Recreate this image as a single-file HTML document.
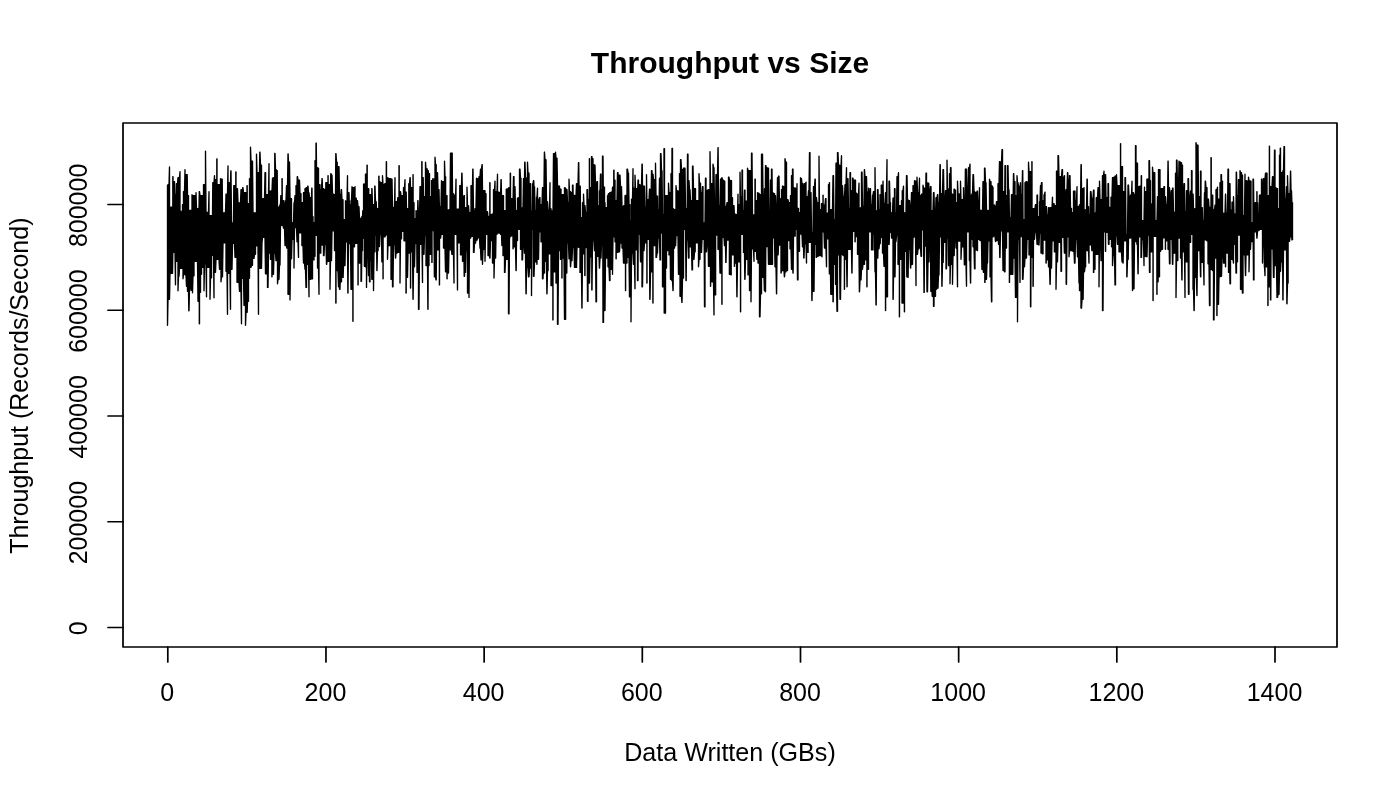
<!DOCTYPE html><html><head><meta charset="utf-8"><title>Throughput vs Size</title><style>html,body{margin:0;padding:0;background:#fff;overflow:hidden;}svg{display:block;}text{font-family:"Liberation Sans",Arial,Helvetica,sans-serif;fill:#000;}</style></head><body>
<svg width="1400" height="800" viewBox="0 0 1400 800">
<rect width="1400" height="800" fill="#fff"/>
<text x="730" y="73" font-size="30" font-weight="bold" text-anchor="middle">Throughput vs Size</text>
<polyline points="167.50,184.7 167.50,325.3 168.00,299.3 168.00,184.7 168.50,184.7 168.50,299.3 169.00,299.3 169.00,184.7 169.50,166.9 169.50,299.3 170.00,273.3 170.00,207.1 170.50,207.1 170.50,273.3 171.00,273.3 171.00,207.1 171.50,207.1 171.50,273.3 172.00,273.3 172.00,207.1 172.50,207.1 172.50,273.3 172.80,252.3 172.80,176.7 173.00,176.7 173.00,252.3 173.50,252.3 173.50,181.7 174.00,181.7 174.00,252.3 174.50,252.3 174.50,181.7 175.00,194.7 175.00,252.3 175.50,284.8 175.50,194.7 176.00,194.7 176.00,261.3 176.50,261.3 176.50,183.7 177.00,183.7 177.00,261.3 177.50,261.3 177.50,183.7 178.00,177.7 178.00,290.8 178.50,276.3 178.50,177.7 179.00,177.7 179.00,276.3 179.50,268.3 179.50,177.7 180.00,171.7 180.00,268.3 180.50,268.3 180.50,211.4 181.00,211.4 181.00,268.3 181.50,268.3 181.50,211.4 182.00,211.4 182.00,268.3 182.50,268.3 182.50,204.7 183.00,204.7 183.00,278.8 183.50,274.3 183.50,191.7 184.00,191.7 184.00,274.3 184.50,274.3 184.50,191.7 185.00,169.7 185.00,274.3 185.50,275.3 185.50,174.7 186.00,174.7 186.00,275.3 186.50,286.3 186.50,174.7 187.00,174.7 187.00,286.3 187.20,286.3 187.20,174.7 187.50,195.7 187.50,291.3 188.00,291.3 188.00,195.7 188.50,195.7 188.50,291.3 188.80,310.8 188.80,210.3 189.00,210.3 189.00,310.8 189.50,288.3 189.50,210.3 190.00,210.3 190.00,288.3 190.50,288.3 190.50,210.3 191.00,210.3 191.00,290.3 191.20,290.3 191.20,210.3 191.50,210.3 191.50,290.3 192.00,290.3 192.00,194.7 192.50,195.7 192.50,292.8 193.00,275.8 193.00,195.7 193.50,195.7 193.50,275.8 194.00,275.8 194.00,195.7 194.50,195.7 194.50,261.3 195.00,261.3 195.00,195.7 195.50,195.7 195.50,261.3 196.00,261.3 196.00,192.7 196.50,208.7 196.50,261.3 197.00,261.3 197.00,208.7 197.50,208.7 197.50,261.3 198.00,301.3 198.00,208.7 198.50,208.7 198.50,301.3 199.00,301.3 199.00,208.7 199.30,191.7 199.30,323.8 199.50,323.8 199.50,191.7 200.00,195.7 200.00,292.3 200.50,292.3 200.50,195.7 201.00,195.7 201.00,274.3 201.50,274.3 201.50,195.7 202.00,195.7 202.00,267.3 202.50,267.3 202.50,195.7 203.00,195.7 203.00,267.3 203.50,267.3 203.50,184.7 204.00,184.7 204.00,290.8 204.50,263.8 204.50,184.7 205.00,184.7 205.00,263.8 205.50,263.8 205.50,151.2 206.00,212.5 206.00,263.8 206.50,296.8 206.50,212.5 207.00,212.5 207.00,267.3 207.50,267.3 207.50,212.5 208.00,212.5 208.00,267.3 208.50,267.3 208.50,212.5 209.00,191.7 209.00,267.3 209.50,267.3 209.50,215.7 210.00,215.7 210.00,299.3 210.50,277.8 210.50,215.7 211.00,215.7 211.00,277.8 211.50,277.8 211.50,215.7 212.00,215.7 212.00,255.3 212.50,255.3 212.50,215.7 212.80,182.7 212.80,255.3 213.00,255.3 213.00,182.7 213.50,182.7 213.50,255.3 214.00,297.8 214.00,182.7 214.50,175.7 214.50,272.3 215.00,272.3 215.00,179.7 215.50,179.7 215.50,272.3 216.00,259.3 216.00,179.7 216.50,179.7 216.50,259.3 216.80,259.3 216.80,158.9 217.00,158.9 217.00,259.3 217.50,259.3 217.50,184.7 218.00,184.7 218.00,259.3 218.50,259.3 218.50,184.7 219.00,184.7 219.00,259.3 219.50,269.3 219.50,184.7 220.00,184.7 220.00,269.3 220.50,269.3 220.50,178.7 221.00,179.2 221.00,281.8 221.50,276.8 221.50,179.2 222.00,179.2 222.00,276.8 222.20,276.8 222.20,179.2 222.50,212.8 222.50,276.8 223.00,242.9 223.00,212.8 223.50,212.8 223.50,242.9 224.00,242.9 224.00,212.8 224.20,212.8 224.20,242.9 224.50,242.9 224.50,212.8 225.00,212.8 225.00,242.9 225.50,242.9 225.50,212.8 226.00,194.2 226.00,271.3 226.50,271.3 226.50,194.2 227.00,194.2 227.00,271.3 227.50,314.3 227.50,194.2 228.00,165.9 228.00,273.3 228.50,273.3 228.50,182.7 229.00,182.7 229.00,273.3 229.50,273.3 229.50,182.7 230.00,182.7 230.00,273.3 230.50,309.3 230.50,182.7 230.80,170.9 230.80,269.3 231.00,269.3 231.00,170.9 231.50,222.8 231.50,269.3 231.80,269.3 231.80,222.8 232.00,222.8 232.00,269.3 232.50,243.3 232.50,222.8 233.00,222.8 233.00,243.3 233.50,243.3 233.50,222.8 233.80,185.7 233.80,243.3 234.00,243.3 234.00,185.7 234.50,185.7 234.50,243.3 235.00,257.3 235.00,185.7 235.50,185.7 235.50,257.3 235.80,257.3 235.80,171.9 236.00,171.9 236.00,257.3 236.50,257.3 236.50,188.7 237.00,188.7 237.00,282.3 237.50,282.3 237.50,188.7 238.00,202.8 238.00,282.3 238.50,282.3 238.50,202.8 239.00,202.8 239.00,282.3 239.50,291.3 239.50,202.8 240.00,202.8 240.00,291.3 240.50,291.3 240.50,202.8 241.00,189.7 241.00,291.3 241.50,323.8 241.50,189.7 242.00,189.7 242.00,278.3 242.50,278.3 242.50,189.7 242.80,187.7 242.80,278.3 243.00,278.3 243.00,187.7 243.50,192.7 243.50,278.3 244.00,305.3 244.00,192.7 244.50,192.7 244.50,305.3 245.00,305.3 245.00,192.7 245.50,192.7 245.50,325.3 246.00,312.3 246.00,192.7 246.50,192.7 246.50,312.3 247.00,312.3 247.00,185.7 247.20,185.7 247.20,312.3 247.50,301.3 247.50,203.7 248.00,203.7 248.00,301.3 248.50,301.3 248.50,203.7 249.00,203.7 249.00,278.3 249.50,278.3 249.50,178.7 250.00,178.7 250.00,267.3 250.50,267.3 250.50,147.2 251.00,161.2 251.00,267.3 251.50,265.3 251.50,161.2 252.00,161.2 252.00,265.3 252.50,265.3 252.50,161.2 253.00,212.8 253.00,258.3 253.50,258.3 253.50,212.8 254.00,212.8 254.00,258.3 254.50,254.3 254.50,212.8 255.00,212.8 255.00,254.3 255.50,254.3 255.50,212.8 256.00,212.8 256.00,245.8 256.50,245.8 256.50,154.2 257.00,172.7 257.00,245.8 257.50,245.8 257.50,172.7 258.00,172.7 258.00,245.8 258.50,314.3 258.50,172.7 259.00,172.7 259.00,268.3 259.50,268.3 259.50,172.7 259.80,152.2 259.80,268.3 260.00,268.3 260.00,152.2 260.50,165.2 260.50,268.3 261.00,268.3 261.00,165.2 261.50,165.2 261.50,268.3 262.00,242.2 262.00,198.7 262.10,198.7 262.10,242.2 262.50,237.2 262.50,198.7 263.00,198.7 263.00,237.2 263.50,237.2 263.50,198.7 264.00,198.7 264.00,237.2 264.50,237.2 264.50,198.7 265.00,172.7 265.00,237.2 265.50,273.7 265.50,172.7 265.62,172.7 265.62,273.7 266.00,273.7 266.00,194.7 266.50,194.7 266.50,273.7 267.00,273.7 267.00,194.7 267.50,194.7 267.50,287.4 267.75,287.4 267.75,194.7 268.00,194.7 268.00,287.4 268.50,253.1 268.50,194.7 269.00,163.7 269.00,253.1 269.38,253.1 269.38,191.2 269.50,191.2 269.50,253.1 270.00,253.1 270.00,191.2 270.50,191.2 270.50,259.3 270.62,259.3 270.62,191.2 271.00,191.2 271.00,259.3 271.50,259.3 271.50,190.7 271.88,190.7 271.88,276.8 272.00,276.8 272.00,190.7 272.50,178.2 272.50,274.3 273.00,274.3 273.00,178.2 273.50,177.7 273.50,274.3 274.00,253.1 274.00,177.7 274.50,177.7 274.50,253.1 274.75,253.1 274.75,153.5 274.80,153.5 274.80,253.1 275.00,253.1 275.00,153.5 275.50,169.7 275.50,253.1 276.00,260.6 276.00,169.7 276.25,169.7 276.25,260.6 276.50,260.6 276.50,170.7 277.00,170.7 277.00,260.6 277.20,260.6 277.20,170.7 277.50,207.1 277.50,283.7 278.00,279.3 278.00,207.1 278.50,207.1 278.50,279.3 278.75,279.3 278.75,207.1 279.00,207.1 279.00,279.3 279.50,264.9 279.50,207.1 280.00,204.7 280.00,264.9 280.50,225.4 280.50,204.7 280.80,195.7 280.80,225.4 281.00,225.4 281.00,195.7 281.50,195.7 281.50,225.4 282.00,225.4 282.00,178.7 282.20,178.7 282.20,225.4 282.50,225.4 282.50,200.7 283.00,200.7 283.00,225.4 283.50,228.1 283.50,200.7 283.75,200.7 283.75,228.1 284.00,228.1 284.00,204.7 284.50,204.7 284.50,228.1 285.00,245.6 285.00,204.7 285.50,200.7 285.50,245.6 286.00,245.6 286.00,200.7 286.50,185.7 286.50,245.6 286.88,248.1 286.88,185.7 287.00,185.7 287.00,248.1 287.50,248.1 287.50,185.7 288.00,153.9 288.00,294.3 288.12,294.3 288.12,153.9 288.50,162.2 288.50,294.3 289.00,294.3 289.00,162.2 289.30,162.2 289.30,294.3 289.50,294.3 289.50,162.2 290.00,198.2 290.00,299.9 290.50,258.7 290.50,198.2 291.00,198.7 291.00,258.7 291.25,258.7 291.25,198.7 291.50,198.7 291.50,258.7 292.00,239.3 292.00,222.7 292.50,222.7 292.50,239.3 292.75,239.3 292.75,222.7 293.00,222.7 293.00,239.3 293.50,239.3 293.50,222.7 294.00,202.7 294.00,268.1 294.50,227.5 294.50,202.7 295.00,195.7 295.00,227.5 295.50,227.5 295.50,195.7 295.62,195.7 295.62,227.5 296.00,227.5 296.00,185.7 296.50,185.7 296.50,227.5 297.00,241.8 297.00,185.7 297.25,176.7 297.25,241.8 297.50,241.8 297.50,176.7 298.00,180.2 298.00,241.8 298.50,257.4 298.50,180.2 299.00,180.2 299.00,232.9 299.50,232.9 299.50,180.2 300.00,193.7 300.00,232.9 300.50,232.9 300.50,193.7 301.00,193.7 301.00,232.9 301.50,232.9 301.50,202.7 301.88,202.7 301.88,245.6 302.00,245.6 302.00,202.7 302.20,202.7 302.20,245.6 302.50,245.6 302.50,202.7 303.00,202.7 303.00,245.6 303.50,263.1 303.50,192.7 303.75,192.7 303.75,263.1 304.00,263.1 304.00,192.7 304.50,192.7 304.50,263.1 305.00,269.3 305.00,188.7 305.50,188.7 305.50,269.3 306.00,287.4 306.00,188.7 306.25,187.7 306.25,287.4 306.50,287.4 306.50,187.7 307.00,187.7 307.00,264.3 307.50,264.3 307.50,187.7 307.80,186.2 307.80,264.3 308.00,264.3 308.00,186.2 308.50,192.7 308.50,264.3 309.00,296.8 309.00,192.7 309.50,197.7 309.50,279.3 310.00,279.3 310.00,197.7 310.50,197.7 310.50,279.3 310.62,279.3 310.62,197.7 311.00,197.7 311.00,278.7 311.50,278.7 311.50,197.7 311.80,188.2 311.80,278.7 312.00,278.7 312.00,188.2 312.25,216.7 312.25,278.7 312.50,278.7 312.50,216.7 313.00,216.7 313.00,259.9 313.50,259.9 313.50,222.7 313.75,222.7 313.75,259.9 314.00,259.9 314.00,222.7 314.50,222.7 314.50,256.2 315.00,256.2 315.00,160.7 315.50,160.7 315.50,235.4 316.00,235.4 316.00,143.2 316.20,143.2 316.20,235.4 316.25,235.4 316.25,143.2 316.50,167.7 316.50,235.4 317.00,235.4 317.00,167.7 317.50,167.7 317.50,268.1 318.00,268.1 318.00,168.2 318.50,168.2 318.50,268.1 319.00,294.3 319.00,184.7 319.50,184.7 319.50,253.1 319.80,253.1 319.80,184.7 320.00,184.7 320.00,253.1 320.50,253.1 320.50,189.7 320.62,189.7 320.62,253.1 320.80,253.1 320.80,189.7 321.00,189.7 321.00,245.0 321.50,245.0 321.50,189.7 322.00,178.7 322.00,245.0 322.20,245.0 322.20,178.7 322.50,188.7 322.50,245.0 323.00,245.0 323.00,188.7 323.50,188.7 323.50,255.6 323.75,255.6 323.75,188.7 324.00,189.7 324.00,255.6 324.50,244.3 324.50,189.7 324.80,189.7 324.80,244.3 325.00,244.3 325.00,189.7 325.50,189.7 325.50,244.3 325.80,244.3 325.80,182.7 326.00,182.7 326.00,244.3 326.50,264.3 326.50,182.7 326.62,182.7 326.62,264.3 327.00,261.2 327.00,182.7 327.50,182.7 327.50,261.2 328.00,261.2 328.00,175.7 328.12,175.7 328.12,261.2 328.50,261.2 328.50,184.7 329.00,184.7 329.00,261.2 329.50,261.2 329.50,184.7 330.00,184.7 330.00,289.3 330.50,260.6 330.50,184.7 330.80,173.7 330.80,260.6 331.00,260.6 331.00,173.7 331.50,175.2 331.50,260.6 332.00,230.8 332.00,175.2 332.50,193.7 332.50,230.8 333.00,230.8 333.00,193.7 333.12,193.7 333.12,230.8 333.50,230.8 333.50,194.7 334.00,194.7 334.00,230.8 334.20,230.8 334.20,194.7 334.50,194.7 334.50,250.6 334.75,250.6 334.75,194.7 335.00,194.7 335.00,250.6 335.50,250.6 335.50,194.7 335.80,153.7 335.80,303.1 336.00,303.1 336.00,153.7 336.50,162.2 336.50,270.6 337.00,270.6 337.00,162.2 337.20,162.2 337.20,270.6 337.50,270.6 337.50,166.7 338.00,166.7 338.00,270.6 338.50,286.8 338.50,166.7 338.75,166.7 338.75,286.8 339.00,286.8 339.00,166.7 339.50,194.7 339.50,289.3 339.75,289.3 339.75,194.7 340.00,194.7 340.00,289.3 340.20,281.8 340.20,194.7 340.50,194.7 340.50,281.8 341.00,281.8 341.00,194.7 341.25,189.7 341.25,281.8 341.50,281.8 341.50,189.7 342.00,199.7 342.00,277.4 342.50,277.4 342.50,199.7 342.80,199.7 342.80,277.4 343.00,277.4 343.00,199.7 343.12,219.7 343.12,277.4 343.50,265.6 343.50,219.7 344.00,219.7 344.00,265.6 344.50,265.6 344.50,219.7 345.00,219.7 345.00,265.6 345.50,241.8 345.50,200.7 346.00,201.7 346.00,241.8 346.20,241.8 346.20,201.7 346.50,201.7 346.50,241.8 347.00,241.8 347.00,201.7 347.50,175.7 347.50,241.8 347.88,293.1 347.88,192.7 348.00,192.7 348.00,293.1 348.50,243.6 348.50,192.7 348.80,192.7 348.80,243.6 349.00,243.6 349.00,192.7 349.38,205.3 349.38,243.6 349.40,243.6 349.40,205.3 349.50,205.3 349.50,243.6 350.00,243.6 350.00,204.7 350.50,204.7 350.50,243.6 351.00,289.3 351.00,200.7 351.25,200.7 351.25,289.3 351.50,289.3 351.50,200.7 352.00,186.7 352.00,289.3 352.50,289.3 352.50,187.7 352.88,187.7 352.88,321.2 353.00,321.2 353.00,187.7 353.50,187.7 353.50,246.8 354.00,246.8 354.00,187.7 354.38,187.7 354.38,246.8 354.50,246.8 354.50,187.7 355.00,186.7 355.00,243.3 355.50,243.3 355.50,198.2 356.00,198.2 356.00,243.3 356.20,243.3 356.20,198.2 356.25,198.2 356.25,243.3 356.50,243.3 356.50,200.7 357.00,200.7 357.00,243.3 357.50,243.3 357.50,200.7 358.00,206.7 358.00,284.9 358.12,284.9 358.12,206.7 358.50,206.7 358.50,263.1 359.00,263.1 359.00,206.7 359.50,218.5 359.50,263.1 359.75,263.1 359.75,218.5 360.00,218.5 360.00,263.1 360.50,263.1 360.50,218.5 361.00,218.5 361.00,281.2 361.25,281.2 361.25,218.5 361.50,218.5 361.50,281.2 361.80,250.6 361.80,216.7 362.00,216.7 362.00,250.6 362.50,250.6 362.50,216.7 362.80,210.7 362.80,238.3 363.00,238.3 363.00,210.7 363.50,210.7 363.50,238.3 363.57,238.3 363.57,184.2 363.80,184.2 363.80,238.3 364.00,238.3 364.00,184.2 364.38,184.2 364.38,266.2 364.50,266.2 364.50,184.2 365.00,184.2 365.00,266.2 365.50,266.8 365.50,174.2 365.62,174.2 365.62,266.8 366.00,266.8 366.00,174.2 366.50,174.2 366.50,287.4 367.00,245.6 367.00,165.2 367.20,165.2 367.20,245.6 367.50,245.6 367.50,188.7 368.00,188.7 368.00,245.6 368.50,275.6 368.50,188.7 368.75,188.7 368.75,275.6 369.00,275.6 369.00,194.7 369.50,194.7 369.50,281.8 369.75,281.8 369.75,194.7 369.80,194.7 369.80,281.8 370.00,281.8 370.00,194.7 370.50,194.7 370.50,260.6 371.00,260.6 371.00,194.7 371.50,194.7 371.50,260.6 371.80,279.3 371.80,188.7 371.88,188.7 371.88,279.3 372.00,279.3 372.00,188.7 372.50,204.7 372.50,279.3 373.00,279.3 373.00,204.7 373.50,204.7 373.50,290.6 374.00,251.8 374.00,204.7 374.50,204.7 374.50,251.8 374.75,251.8 374.75,186.2 374.80,186.2 374.80,251.8 375.00,251.8 375.00,186.2 375.50,201.7 375.50,235.4 375.62,235.4 375.62,201.7 376.00,201.7 376.00,235.4 376.20,235.4 376.20,201.7 376.50,208.7 376.50,235.4 376.88,270.6 376.88,208.7 377.00,208.7 377.00,270.6 377.50,250.6 377.50,208.7 378.00,208.7 378.00,250.6 378.12,250.6 378.12,208.7 378.50,208.7 378.50,246.5 378.80,246.5 378.80,176.2 379.00,176.2 379.00,246.5 379.38,246.5 379.38,181.7 379.50,181.7 379.50,246.5 380.00,234.3 380.00,181.7 380.50,182.7 380.50,234.3 380.62,234.3 380.62,182.7 381.00,182.7 381.00,234.3 381.20,234.3 381.20,182.7 381.50,182.7 381.50,234.3 381.88,261.8 381.88,182.7 382.00,182.7 382.00,261.8 382.50,261.8 382.50,175.7 383.00,184.7 383.00,278.7 383.12,278.7 383.12,184.7 383.50,184.7 383.50,236.8 384.00,236.8 384.00,184.7 384.50,184.7 384.50,236.8 384.75,236.8 384.75,183.7 385.00,183.7 385.00,236.8 385.50,234.9 385.50,183.7 386.00,183.7 386.00,234.9 386.30,234.9 386.30,161.7 386.50,161.7 386.50,234.9 387.00,234.9 387.00,177.7 387.50,177.7 387.50,259.3 388.00,245.6 388.00,178.2 388.50,178.2 388.50,245.6 389.00,245.6 389.00,178.7 389.38,178.7 389.38,245.6 389.50,245.6 389.50,178.7 389.80,178.7 389.80,245.6 390.00,245.6 390.00,178.7 390.50,178.7 390.50,245.6 390.80,245.6 390.80,178.7 391.00,178.7 391.00,279.3 391.25,279.3 391.25,179.2 391.50,179.2 391.50,279.3 392.00,279.3 392.00,179.2 392.50,207.5 392.50,286.8 392.75,286.8 392.75,207.5 393.00,207.5 393.00,286.8 393.50,244.3 393.50,207.5 394.00,207.5 394.00,244.3 394.50,244.3 394.50,207.5 395.00,177.7 395.00,244.3 395.50,258.1 395.50,201.7 395.62,201.7 395.62,258.1 396.00,253.1 396.00,201.7 396.50,201.7 396.50,253.1 396.88,253.1 396.88,201.7 397.00,201.7 397.00,253.1 397.50,252.4 397.50,201.7 397.80,197.7 397.80,252.4 398.00,252.4 398.00,197.7 398.50,197.7 398.50,252.4 399.00,252.4 399.00,165.7 399.20,165.7 399.20,252.4 399.50,252.4 399.50,191.7 400.00,191.7 400.00,283.1 400.50,238.7 400.50,191.7 401.00,195.7 401.00,238.7 401.50,238.7 401.50,195.7 402.00,195.7 402.00,231.2 402.50,231.2 402.50,195.7 403.00,195.7 403.00,231.2 403.50,231.2 403.50,187.7 404.00,187.7 404.00,240.8 404.50,240.8 404.50,187.7 405.00,179.7 405.00,240.8 405.50,240.8 405.50,192.2 406.00,192.2 406.00,293.1 406.20,293.1 406.20,192.2 406.50,208.7 406.50,277.4 407.00,277.4 407.00,208.7 407.50,208.7 407.50,277.4 408.00,253.1 408.00,208.7 408.50,208.7 408.50,253.1 408.80,253.1 408.80,183.7 409.00,183.7 409.00,253.1 409.50,253.1 409.50,183.7 410.00,177.7 410.00,253.1 410.20,253.1 410.20,177.7 410.50,187.7 410.50,288.1 410.62,288.1 410.62,187.7 411.00,187.7 411.00,251.8 411.50,251.8 411.50,187.7 411.88,187.7 411.88,251.8 412.00,251.8 412.00,187.7 412.50,187.7 412.50,251.8 413.00,299.3 413.00,174.7 413.12,174.7 413.12,299.3 413.50,266.8 413.50,202.7 414.00,202.7 414.00,266.8 414.38,266.8 414.38,218.7 414.50,218.7 414.50,266.8 415.00,243.6 415.00,218.7 415.50,218.7 415.50,243.6 416.00,243.6 416.00,210.7 416.25,210.7 416.25,243.6 416.50,243.6 416.50,219.7 416.80,219.7 416.80,243.6 417.00,272.4 417.00,219.7 417.25,219.7 417.25,272.4 417.50,272.4 417.50,219.7 417.80,200.7 417.80,272.4 418.00,272.4 418.00,200.7 418.50,218.7 418.50,309.3 418.75,309.3 418.75,218.7 419.00,218.7 419.00,309.3 419.50,244.3 419.50,218.7 420.00,186.7 420.00,244.3 420.50,244.3 420.50,186.7 420.62,186.7 420.62,244.3 421.00,244.3 421.00,186.7 421.50,186.7 421.50,244.3 421.80,244.3 421.80,161.7 422.00,161.7 422.00,244.3 422.50,282.4 422.50,177.7 423.00,177.7 423.00,254.3 423.20,254.3 423.20,177.7 423.50,196.7 423.50,254.3 423.75,254.3 423.75,196.7 424.00,196.7 424.00,254.3 424.50,235.6 424.50,196.7 425.00,196.7 425.00,235.6 425.50,235.6 425.50,162.2 426.00,168.7 426.00,265.6 426.25,265.6 426.25,168.7 426.50,168.7 426.50,265.6 427.00,265.6 427.00,168.7 427.50,170.7 427.50,265.6 427.88,309.3 427.88,170.7 428.00,170.7 428.00,309.3 428.20,265.6 428.20,170.7 428.50,173.7 428.50,265.6 429.00,265.6 429.00,173.7 429.50,173.7 429.50,254.3 430.00,254.3 430.00,196.7 430.50,196.7 430.50,254.3 430.62,254.3 430.62,196.7 431.00,196.7 431.00,254.3 431.50,254.3 431.50,180.7 431.88,180.7 431.88,262.4 432.00,262.4 432.00,180.7 432.50,180.7 432.50,230.6 432.80,230.6 432.80,178.7 433.00,178.7 433.00,230.6 433.12,230.6 433.12,179.2 433.50,179.2 433.50,230.6 433.80,230.6 433.80,179.2 434.00,179.2 434.00,230.6 434.38,276.8 434.38,179.2 434.50,179.2 434.50,276.8 435.00,276.8 435.00,157.2 435.50,164.7 435.50,276.8 436.00,279.9 436.00,164.7 436.20,164.7 436.20,279.9 436.50,249.9 436.50,172.7 437.00,172.7 437.00,249.9 437.50,249.9 437.50,172.7 438.00,189.7 438.00,249.9 438.50,249.9 438.50,189.7 438.80,189.7 438.80,249.9 439.00,249.9 439.00,189.7 439.38,206.4 439.38,284.9 439.50,284.9 439.50,206.4 440.00,206.4 440.00,238.1 440.50,238.1 440.50,206.4 440.62,206.4 440.62,238.1 441.00,234.3 441.00,206.4 441.50,180.7 441.50,234.3 441.88,234.3 441.88,181.7 442.00,181.7 442.00,234.3 442.50,234.3 442.50,181.7 442.80,181.7 442.80,234.3 443.00,234.3 443.00,181.7 443.50,181.7 443.50,248.1 443.75,248.1 443.75,181.7 444.00,181.7 444.00,248.1 444.50,248.1 444.50,161.2 445.00,176.7 445.00,248.1 445.50,271.8 445.50,176.7 445.62,176.7 445.62,271.8 446.00,271.8 446.00,195.7 446.50,195.7 446.50,271.8 446.80,271.8 446.80,195.7 447.00,195.7 447.00,278.7 447.12,278.7 447.12,210.0 447.50,210.0 447.50,273.1 448.00,273.1 448.00,210.0 448.50,210.0 448.50,273.1 449.00,249.9 449.00,210.0 449.50,209.7 449.50,249.9 450.00,249.9 450.00,209.7 450.50,153.2 450.50,249.9 451.00,249.9 451.00,153.2 451.50,153.2 451.50,249.9 451.88,254.3 451.88,153.2 452.00,153.2 452.00,254.3 452.20,254.3 452.20,153.2 452.50,193.7 452.50,254.3 453.00,254.3 453.00,193.7 453.50,193.7 453.50,254.3 454.00,283.1 454.00,195.2 454.50,195.2 454.50,234.3 455.00,234.3 455.00,195.2 455.50,195.2 455.50,234.3 455.62,234.3 455.62,195.2 456.00,179.2 456.00,234.3 456.50,234.3 456.50,209.2 457.00,209.2 457.00,234.3 457.50,289.9 457.50,209.2 458.00,209.2 458.00,242.9 458.50,242.9 458.50,209.2 459.00,209.2 459.00,242.9 459.50,242.9 459.50,209.2 459.80,185.7 459.80,242.9 460.00,242.9 460.00,185.7 460.50,185.7 460.50,254.9 460.62,254.9 460.62,185.7 461.00,185.7 461.00,254.9 461.50,254.9 461.50,185.7 461.80,173.2 461.80,254.9 462.00,254.9 462.00,173.2 462.50,198.7 462.50,261.2 462.80,261.2 462.80,198.7 463.00,198.7 463.00,261.2 463.50,261.2 463.50,198.7 464.00,195.7 464.00,261.2 464.20,276.2 464.20,195.7 464.38,195.7 464.38,276.2 464.50,276.2 464.50,207.7 465.00,207.7 465.00,272.4 465.38,272.4 465.38,207.7 465.50,207.7 465.50,272.4 466.00,250.6 466.00,207.7 466.50,207.7 466.50,250.6 467.00,250.6 467.00,187.2 467.50,205.7 467.50,293.1 467.75,293.1 467.75,205.7 468.00,205.7 468.00,293.1 468.50,293.1 468.50,205.7 469.00,212.7 469.00,297.4 469.50,238.1 469.50,212.7 470.00,212.7 470.00,238.1 470.50,238.1 470.50,212.7 470.62,212.7 470.62,238.1 471.00,236.2 471.00,185.7 471.50,185.7 471.50,236.2 471.88,236.2 471.88,185.7 472.00,185.7 472.00,236.2 472.50,236.2 472.50,185.7 472.80,169.2 472.80,236.2 473.00,236.2 473.00,169.2 473.50,214.7 473.50,252.4 473.75,252.4 473.75,214.7 474.00,214.7 474.00,252.4 474.50,243.1 474.50,214.7 475.00,208.7 475.00,243.1 475.25,243.1 475.25,208.7 475.50,208.7 475.50,243.1 476.00,240.0 476.00,208.7 476.50,178.2 476.50,240.0 476.88,240.0 476.88,178.7 477.00,178.7 477.00,240.0 477.50,237.9 477.50,178.7 477.80,178.7 477.80,237.9 478.00,237.9 478.00,178.7 478.50,178.7 478.50,237.9 479.00,237.9 479.00,176.7 479.50,176.7 479.50,237.9 480.00,248.1 480.00,176.7 480.50,169.2 480.50,248.1 481.00,259.9 481.00,169.2 481.25,169.2 481.25,259.9 481.50,259.9 481.50,169.2 482.00,164.7 482.00,259.9 482.20,259.9 482.20,164.7 482.50,190.7 482.50,264.3 483.00,249.3 483.00,190.7 483.50,190.7 483.50,249.3 483.75,249.3 483.75,190.7 484.00,190.7 484.00,249.3 484.50,249.3 484.50,190.7 485.00,190.7 485.00,261.2 485.50,234.3 485.50,193.7 486.00,193.7 486.00,234.3 486.50,234.3 486.50,211.7 487.00,211.7 487.00,234.3 487.50,234.3 487.50,211.7 488.00,216.7 488.00,255.6 488.12,255.6 488.12,216.7 488.50,216.7 488.50,255.6 489.00,255.6 489.00,216.7 489.50,216.7 489.50,255.6 489.80,258.1 489.80,182.7 490.00,182.7 490.00,258.1 490.50,240.6 490.50,214.7 491.00,214.7 491.00,240.6 491.20,240.6 491.20,214.7 491.25,214.7 491.25,240.6 491.50,240.6 491.50,214.7 492.00,214.2 492.00,240.6 492.20,240.6 492.20,214.2 492.50,214.2 492.50,263.1 492.75,263.1 492.75,214.2 493.00,214.2 493.00,263.1 493.50,263.1 493.50,189.7 494.00,189.7 494.00,278.1 494.50,258.1 494.50,189.7 495.00,181.2 495.00,258.1 495.50,258.1 495.50,191.7 495.62,191.7 495.62,258.1 496.00,234.3 496.00,191.7 496.20,191.7 496.20,234.3 496.50,234.3 496.50,191.7 496.88,191.7 496.88,234.3 497.00,234.3 497.00,191.7 497.50,174.2 497.50,233.1 498.00,233.1 498.00,192.2 498.50,192.2 498.50,233.1 499.00,233.1 499.00,192.2 499.50,192.7 499.50,233.1 500.00,233.1 500.00,192.7 500.50,192.7 500.50,234.3 500.62,234.3 500.62,192.7 501.00,179.7 501.00,234.3 501.20,234.3 501.20,179.7 501.50,195.7 501.50,234.3 501.88,245.6 501.88,195.7 502.00,195.7 502.00,245.6 502.50,245.6 502.50,195.7 503.00,195.7 503.00,255.6 503.12,255.6 503.12,195.7 503.50,195.7 503.50,255.6 504.00,255.6 504.00,210.7 504.50,210.7 504.50,272.4 504.75,272.4 504.75,210.7 505.00,210.7 505.00,272.4 505.50,259.3 505.50,210.7 506.00,210.7 506.00,259.3 506.25,259.3 506.25,189.2 506.50,189.2 506.50,259.3 507.00,259.3 507.00,189.2 507.50,189.2 507.50,259.3 507.80,259.3 507.80,188.7 508.00,188.7 508.00,259.3 508.40,259.3 508.40,208.5 508.50,208.5 508.50,313.7 508.75,313.7 508.75,187.7 509.00,187.7 509.00,313.7 509.50,236.8 509.50,187.7 510.00,187.7 510.00,236.8 510.25,236.8 510.25,173.2 510.50,173.2 510.50,236.8 511.00,235.8 511.00,198.7 511.50,198.7 511.50,235.8 511.88,235.8 511.88,198.7 512.00,198.7 512.00,235.8 512.50,235.8 512.50,198.7 513.00,198.7 513.00,248.7 513.12,248.7 513.12,198.7 513.50,176.7 513.50,246.8 513.80,246.8 513.80,176.7 514.00,176.7 514.00,246.8 514.38,246.8 514.38,186.7 514.50,186.7 514.50,246.8 515.00,246.8 515.00,186.7 515.50,210.7 515.50,246.8 516.00,270.6 516.00,210.7 516.20,210.7 516.20,270.6 516.50,240.6 516.50,210.7 517.00,210.7 517.00,240.6 517.50,240.6 517.50,198.2 518.00,198.2 518.00,229.3 518.50,229.3 518.50,197.7 519.00,197.7 519.00,229.3 519.50,229.3 519.50,169.2 519.80,169.2 519.80,229.3 520.00,229.3 520.00,169.2 520.50,178.2 520.50,249.3 520.62,249.3 520.62,178.2 521.00,178.2 521.00,249.3 521.50,249.3 521.50,207.8 522.00,207.8 522.00,259.9 522.25,259.9 522.25,207.8 522.50,207.8 522.50,259.9 523.00,242.9 523.00,207.8 523.50,178.7 523.50,242.9 523.75,242.9 523.75,178.7 524.00,178.7 524.00,242.9 524.50,253.1 524.50,178.7 524.75,162.2 524.75,253.1 525.00,253.1 525.00,162.2 525.50,178.2 525.50,253.1 526.00,293.7 526.00,178.2 526.20,178.2 526.20,293.7 526.50,267.4 526.50,178.2 527.00,178.2 527.00,267.4 527.50,267.4 527.50,162.2 528.00,173.2 528.00,267.4 528.50,276.8 528.50,173.2 528.75,173.2 528.75,276.8 528.80,276.8 528.80,173.2 529.00,173.2 529.00,276.8 529.50,268.1 529.50,183.7 530.00,183.7 530.00,268.1 530.20,268.1 530.20,183.7 530.50,183.7 530.50,268.1 531.00,268.1 531.00,211.4 531.50,211.4 531.50,295.6 532.00,229.3 532.00,211.4 532.50,183.7 532.50,229.3 533.00,229.3 533.00,183.7 533.50,180.7 533.50,276.2 533.75,276.2 533.75,180.7 534.00,186.7 534.00,276.2 534.50,261.8 534.50,186.7 535.00,210.7 535.00,261.8 535.50,261.8 535.50,210.7 536.00,210.7 536.00,261.8 536.50,261.8 536.50,197.2 536.88,197.2 536.88,264.3 537.00,264.3 537.00,197.2 537.50,188.2 537.50,259.3 538.00,259.3 538.00,199.7 538.50,199.7 538.50,259.3 539.00,231.8 539.00,199.7 539.50,197.7 539.50,231.8 539.80,231.8 539.80,197.7 540.00,197.7 540.00,231.8 540.50,231.8 540.50,204.7 541.00,204.7 541.00,241.8 541.25,241.8 541.25,204.7 541.50,204.7 541.50,241.8 542.00,241.8 542.00,204.7 542.50,187.7 542.50,278.7 542.75,278.7 542.75,187.7 543.00,187.7 543.00,278.7 543.30,273.1 543.30,187.7 543.50,187.7 543.50,273.1 544.00,273.1 544.00,187.7 544.38,152.2 544.38,273.1 544.50,273.1 544.50,152.2 545.00,159.7 545.00,261.2 545.50,261.2 545.50,159.7 545.62,159.7 545.62,261.2 546.00,261.2 546.00,159.7 546.50,201.7 546.50,261.2 546.88,293.7 546.88,201.7 547.00,201.7 547.00,293.7 547.50,270.6 547.50,201.7 548.00,210.0 548.00,270.6 548.12,270.6 548.12,210.0 548.50,210.0 548.50,253.7 549.00,253.7 549.00,210.0 549.38,210.0 549.38,253.7 549.50,253.7 549.50,210.0 550.00,182.7 550.00,253.7 550.50,253.7 550.50,208.7 551.00,208.7 551.00,285.6 551.50,285.6 551.50,211.0 552.00,211.0 552.00,285.6 552.50,285.6 552.50,211.0 552.88,211.0 552.88,319.9 553.00,319.9 553.00,211.0 553.50,153.7 553.50,271.8 554.00,271.8 554.00,153.7 554.38,153.7 554.38,271.8 554.50,271.8 554.50,153.7 555.00,153.7 555.00,271.8 555.50,271.8 555.50,152.2 556.00,158.2 556.00,283.1 556.25,283.1 556.25,158.2 556.50,158.2 556.50,283.1 557.00,283.1 557.00,158.2 557.50,185.7 557.50,324.3 557.75,324.3 557.75,185.7 558.00,185.7 558.00,324.3 558.50,250.6 558.50,186.2 559.00,186.2 559.00,250.6 559.38,250.6 559.38,186.2 559.50,186.2 559.50,250.6 560.00,250.6 560.00,189.2 560.50,189.2 560.50,259.3 560.62,259.3 560.62,189.2 561.00,189.2 561.00,259.3 561.50,259.3 561.50,194.7 561.88,194.7 561.88,278.1 562.00,278.1 562.00,194.7 562.50,194.7 562.50,258.1 563.00,258.1 563.00,194.7 563.50,194.7 563.50,258.1 563.75,258.1 563.75,194.7 564.00,194.7 564.00,258.1 564.50,319.3 564.50,187.7 564.75,187.7 564.75,319.3 565.00,319.3 565.00,188.2 565.50,188.2 565.50,319.3 565.62,319.3 565.62,188.2 566.00,189.7 566.00,273.1 566.50,273.1 566.50,189.7 566.80,189.7 566.80,273.1 567.00,242.9 567.00,189.7 567.50,202.7 567.50,242.9 568.00,242.9 568.00,202.7 568.50,202.7 568.50,242.9 569.00,258.7 569.00,179.2 569.50,191.7 569.50,258.7 570.00,258.7 570.00,191.7 570.20,191.7 570.20,258.7 570.50,266.8 570.50,191.7 570.62,192.7 570.62,266.8 571.00,260.6 571.00,192.7 571.50,192.7 571.50,260.6 571.88,260.6 571.88,192.7 572.00,192.7 572.00,260.6 572.50,247.2 572.50,185.2 572.80,185.2 572.80,247.2 573.00,247.2 573.00,185.2 573.12,195.2 573.12,247.2 573.50,247.2 573.50,195.2 574.00,195.2 574.00,247.2 574.50,267.4 574.50,195.7 574.75,195.7 574.75,267.4 575.00,267.4 575.00,195.7 575.50,195.7 575.50,267.4 576.00,267.4 576.00,195.7 576.50,183.7 576.50,267.4 577.00,246.8 577.00,183.7 577.50,183.7 577.50,246.8 578.00,246.8 578.00,183.7 578.50,162.7 578.50,247.2 578.75,247.2 578.75,162.7 579.00,186.2 579.00,247.2 579.50,247.2 579.50,186.2 580.00,186.2 580.00,272.4 580.25,272.4 580.25,186.2 580.50,217.7 580.50,272.4 581.00,272.4 581.00,217.7 581.50,217.7 581.50,272.4 581.88,308.1 581.88,217.7 582.00,217.7 582.00,308.1 582.50,253.7 582.50,202.7 583.00,202.7 583.00,253.7 583.50,253.7 583.50,194.2 584.00,205.7 584.00,253.7 584.50,253.7 584.50,205.7 584.80,205.7 584.80,275.6 585.00,275.6 585.00,205.7 585.50,212.7 585.50,247.5 586.00,247.5 586.00,212.7 586.50,212.7 586.50,247.5 587.00,247.5 587.00,189.7 587.20,189.7 587.20,247.5 587.50,301.2 587.50,189.7 587.75,199.7 587.75,301.2 588.00,301.2 588.00,199.7 588.20,199.7 588.20,283.1 588.50,283.1 588.50,199.7 589.00,199.7 589.00,283.1 589.38,283.1 589.38,158.7 589.50,158.7 589.50,283.1 590.00,256.8 590.00,187.7 590.50,187.7 590.50,256.8 590.62,256.8 590.62,187.7 591.00,187.7 591.00,256.8 591.50,256.8 591.50,156.7 591.80,156.7 591.80,289.9 591.88,289.9 591.88,156.7 592.00,156.7 592.00,289.9 592.50,240.6 592.50,158.7 593.00,158.7 593.00,240.6 593.50,240.6 593.50,164.7 594.00,164.7 594.00,240.6 594.50,250.6 594.50,165.2 594.75,165.2 594.75,250.6 595.00,250.6 595.00,165.2 595.50,184.7 595.50,250.6 596.00,301.8 596.00,184.7 596.25,184.7 596.25,301.8 596.50,301.8 596.50,184.7 597.00,181.7 597.00,256.2 597.20,256.2 597.20,181.7 597.50,181.7 597.50,256.2 597.75,256.2 597.75,205.7 598.00,205.7 598.00,256.2 598.50,256.2 598.50,205.7 599.00,205.7 599.00,256.2 599.38,268.1 599.38,190.7 599.50,190.7 599.50,268.1 600.00,258.1 600.00,190.7 600.50,174.2 600.50,258.1 600.70,258.1 600.70,174.2 601.00,174.2 601.00,258.1 601.50,243.7 601.50,189.7 602.00,189.7 602.00,243.7 602.50,243.7 602.50,156.2 602.80,156.2 602.80,243.7 603.00,322.4 603.00,156.2 603.25,187.2 603.25,322.4 603.50,322.4 603.50,187.2 604.00,187.2 604.00,310.6 604.20,310.6 604.20,187.2 604.50,187.2 604.50,310.6 604.75,310.6 604.75,202.7 605.00,202.7 605.00,310.6 605.50,258.1 605.50,207.7 606.00,207.7 606.00,258.1 606.20,258.1 606.20,207.7 606.25,207.7 606.25,258.1 606.50,258.1 606.50,207.7 607.00,207.7 607.00,258.1 607.50,258.1 607.50,195.7 608.00,195.7 608.00,266.8 608.12,266.8 608.12,195.7 608.50,193.7 608.50,266.8 608.80,266.8 608.80,193.7 609.00,193.7 609.00,266.8 609.50,280.6 609.50,193.7 609.75,192.7 609.75,280.6 610.00,280.6 610.00,192.7 610.50,192.7 610.50,269.3 611.00,269.3 611.00,192.2 611.20,192.2 611.20,269.3 611.50,269.3 611.50,192.2 611.80,205.3 611.80,269.3 612.00,269.3 612.00,205.3 612.50,187.2 612.50,274.3 613.00,236.8 613.00,187.2 613.50,187.2 613.50,236.8 613.75,236.8 613.75,170.2 614.00,170.2 614.00,236.8 614.50,236.8 614.50,180.2 615.00,180.2 615.00,241.8 615.50,241.8 615.50,200.7 616.00,200.7 616.00,258.7 616.20,258.7 616.20,200.7 616.50,200.7 616.50,252.4 617.00,252.4 617.00,200.7 617.50,172.7 617.50,252.4 617.80,252.4 617.80,172.7 618.00,172.7 618.00,251.8 618.50,251.8 618.50,175.2 619.00,175.2 619.00,251.8 619.38,251.8 619.38,175.2 619.50,175.2 619.50,251.8 620.00,243.1 620.00,175.2 620.50,186.7 620.50,243.1 620.62,243.1 620.62,186.7 621.00,186.7 621.00,243.1 621.50,243.1 621.50,186.7 622.00,206.7 622.00,248.1 622.25,248.1 622.25,206.7 622.50,206.7 622.50,248.1 622.80,248.1 622.80,206.7 623.00,206.7 623.00,248.1 623.50,263.1 623.50,206.7 623.75,205.7 623.75,263.1 624.00,263.1 624.00,205.7 624.50,205.7 624.50,263.1 625.00,263.1 625.00,195.7 625.50,195.7 625.50,290.6 625.62,290.6 625.62,195.7 626.00,195.2 626.00,263.1 626.50,263.1 626.50,195.2 626.88,195.2 626.88,263.1 627.00,263.1 627.00,169.2 627.20,169.2 627.20,257.4 627.50,257.4 627.50,169.2 628.00,173.2 628.00,257.4 628.50,257.4 628.50,173.2 629.00,204.7 629.00,257.4 629.50,296.8 629.50,204.7 629.75,204.7 629.75,296.8 629.80,296.8 629.80,204.7 630.00,204.7 630.00,296.8 630.50,296.8 630.50,220.7 631.00,220.7 631.00,321.8 631.50,253.1 631.50,199.2 632.00,199.2 632.00,253.1 632.50,253.1 632.50,199.2 633.00,168.7 633.00,253.1 633.50,264.3 633.50,188.2 633.75,188.2 633.75,264.3 634.00,264.3 634.00,188.2 634.50,188.2 634.50,264.3 635.00,288.7 635.00,175.2 635.50,188.7 635.50,249.9 636.00,249.9 636.00,188.7 636.50,188.7 636.50,249.9 637.00,249.9 637.00,188.7 637.50,188.7 637.50,280.6 637.75,280.6 637.75,188.7 638.00,180.2 638.00,280.6 638.20,234.3 638.20,180.2 638.50,180.2 638.50,234.3 639.00,234.3 639.00,184.7 639.38,184.7 639.38,234.3 639.50,234.3 639.50,184.7 640.00,185.2 640.00,234.3 640.50,261.8 640.50,185.2 640.62,185.2 640.62,261.8 640.80,261.8 640.80,185.2 641.00,185.2 641.00,261.8 641.50,261.8 641.50,185.2 642.00,164.2 642.00,286.8 642.25,286.8 642.25,164.2 642.50,186.2 642.50,286.8 643.00,250.6 643.00,186.2 643.50,186.2 643.50,250.6 643.75,250.6 643.75,186.2 644.00,186.2 644.00,250.6 644.50,242.9 644.50,186.2 645.00,207.1 645.00,242.9 645.50,242.9 645.50,207.1 646.00,207.1 646.00,242.9 646.50,242.9 646.50,174.7 646.88,199.7 646.88,283.1 647.00,283.1 647.00,199.7 647.50,199.7 647.50,239.3 647.80,239.3 647.80,199.7 648.00,199.7 648.00,239.3 648.12,239.3 648.12,199.7 648.50,199.7 648.50,239.3 649.00,239.3 649.00,199.7 649.50,189.2 649.50,239.3 649.80,299.3 649.80,189.2 650.00,189.2 650.00,299.3 650.50,271.8 650.50,207.8 650.80,207.8 650.80,271.8 651.00,271.8 651.00,207.8 651.50,170.7 651.50,271.8 651.80,271.8 651.80,170.7 652.00,170.7 652.00,271.8 652.50,271.8 652.50,174.2 652.88,174.2 652.88,303.1 653.00,303.1 653.00,174.2 653.50,179.7 653.50,245.6 654.00,245.6 654.00,179.7 654.50,179.7 654.50,245.6 654.75,245.6 654.75,179.7 655.00,179.7 655.00,245.6 655.50,245.6 655.50,163.2 656.00,195.7 656.00,257.4 656.25,257.4 656.25,195.7 656.50,195.7 656.50,257.4 657.00,253.1 657.00,196.2 657.50,196.2 657.50,253.1 658.00,238.1 658.00,209.7 658.50,209.7 658.50,238.1 659.00,238.1 659.00,209.7 659.50,178.2 659.50,238.1 660.00,259.9 660.00,178.2 660.25,178.2 660.25,259.9 660.50,259.9 660.50,153.7 660.80,153.7 660.80,233.1 661.00,233.1 661.00,153.7 661.50,170.7 661.50,233.1 662.00,233.1 662.00,170.7 662.50,214.7 662.50,286.8 662.75,286.8 662.75,214.7 662.80,214.7 662.80,286.8 663.00,286.8 663.00,214.7 663.50,214.7 663.50,286.8 664.00,286.8 664.00,148.7 664.20,148.7 664.20,313.1 664.38,313.1 664.38,148.7 664.50,148.7 664.50,313.1 665.00,313.1 665.00,195.7 665.38,195.7 665.38,313.1 665.50,313.1 665.50,195.7 666.00,195.7 666.00,268.1 666.50,268.1 666.50,195.7 667.00,195.7 667.00,250.6 667.50,250.6 667.50,195.7 668.00,195.7 668.00,250.6 668.50,250.6 668.50,183.2 669.00,192.7 669.00,254.9 669.50,235.0 669.50,192.7 669.80,192.7 669.80,235.0 670.00,235.0 670.00,192.7 670.02,192.7 670.02,235.0 670.50,279.3 670.50,192.7 670.62,192.7 670.62,279.3 671.00,279.3 671.00,173.7 671.50,173.7 671.50,279.3 671.88,280.6 671.88,173.7 672.00,148.5 672.00,280.6 672.30,280.6 672.30,148.5 672.50,148.5 672.50,280.6 673.00,290.6 673.00,208.7 673.12,208.7 673.12,290.6 673.50,248.1 673.50,208.7 674.00,209.7 674.00,248.1 674.38,248.1 674.38,209.7 674.50,209.7 674.50,248.1 674.70,245.6 674.70,209.7 675.00,209.7 675.00,245.6 675.50,245.6 675.50,209.7 675.62,209.7 675.62,245.6 676.00,235.6 676.00,185.7 676.50,190.7 676.50,235.6 676.88,235.6 676.88,190.7 677.00,190.7 677.00,235.6 677.50,235.6 677.50,190.7 678.00,191.2 678.00,235.6 678.50,274.3 678.50,191.2 679.00,191.2 679.00,274.3 679.50,274.3 679.50,173.7 680.00,173.7 680.00,296.2 680.50,296.2 680.50,159.7 680.80,159.7 680.80,296.2 681.00,296.2 681.00,159.7 681.50,169.7 681.50,296.2 681.88,302.4 681.88,169.7 682.00,169.7 682.00,302.4 682.50,278.1 682.50,169.7 683.00,169.7 683.00,278.1 683.50,278.1 683.50,168.2 684.00,168.2 684.00,229.3 684.38,229.3 684.38,168.2 684.50,168.2 684.50,229.3 685.00,229.3 685.00,168.2 685.50,208.7 685.50,229.3 686.00,280.6 686.00,208.7 686.20,208.7 686.20,280.6 686.50,240.0 686.50,208.7 687.00,208.7 687.00,240.0 687.25,240.0 687.25,208.7 687.50,154.2 687.50,240.0 687.80,240.0 687.80,154.2 688.00,154.2 688.00,240.0 688.50,258.1 688.50,180.7 688.75,180.7 688.75,258.1 689.00,258.1 689.00,180.7 689.50,189.7 689.50,246.8 690.00,246.8 690.00,189.7 690.50,200.7 690.50,246.8 690.62,246.8 690.62,200.7 691.00,200.7 691.00,246.8 691.20,246.8 691.20,200.7 691.50,200.7 691.50,246.8 692.00,269.9 692.00,200.7 692.25,200.7 692.25,269.9 692.50,269.9 692.50,166.2 692.80,166.2 692.80,259.3 693.00,259.3 693.00,166.2 693.50,188.7 693.50,259.3 693.75,259.3 693.75,188.7 694.00,188.7 694.00,259.3 694.50,251.8 694.50,188.7 695.00,188.7 695.00,251.8 695.20,251.8 695.20,188.7 695.50,188.7 695.50,242.9 696.00,242.9 696.00,200.7 696.50,200.7 696.50,242.9 696.88,242.9 696.88,200.7 697.00,200.7 697.00,242.9 697.50,242.9 697.50,200.7 697.80,200.7 697.80,242.9 698.00,242.9 698.00,200.7 698.50,200.7 698.50,266.8 699.00,259.3 699.00,173.7 699.50,183.2 699.50,259.3 700.00,259.3 700.00,183.2 700.50,183.2 700.50,252.4 701.00,252.4 701.00,192.7 701.50,192.7 701.50,252.4 702.00,239.3 702.00,192.7 702.50,186.7 702.50,239.3 702.80,239.3 702.80,186.7 703.00,186.7 703.00,239.3 703.12,239.3 703.12,222.8 703.50,222.8 703.50,239.3 704.00,239.3 704.00,222.8 704.20,222.8 704.20,239.3 704.50,306.8 704.50,222.8 704.75,222.8 704.75,306.8 705.00,306.8 705.00,222.8 705.50,178.2 705.50,251.8 705.80,251.8 705.80,178.2 706.00,178.2 706.00,251.8 706.25,251.8 706.25,190.7 706.50,190.7 706.50,251.8 707.00,244.3 707.00,190.7 707.50,190.7 707.50,244.3 708.00,244.3 708.00,189.7 708.20,189.7 708.20,244.3 708.50,266.2 708.50,189.7 708.75,189.7 708.75,266.2 709.00,266.2 709.00,189.7 709.50,189.7 709.50,266.2 710.00,266.2 710.00,151.7 710.50,183.7 710.50,286.2 710.62,286.2 710.62,183.7 711.00,183.7 711.00,281.8 711.50,281.8 711.50,183.7 712.00,183.7 712.00,281.8 712.25,281.8 712.25,183.7 712.50,183.7 712.50,281.8 713.00,281.8 713.00,164.2 713.50,167.7 713.50,281.8 714.00,314.9 714.00,167.7 714.50,209.7 714.50,294.9 715.00,294.9 715.00,209.7 715.50,209.7 715.50,294.9 715.62,294.9 715.62,209.7 716.00,174.7 716.00,235.0 716.20,235.0 716.20,174.7 716.50,174.7 716.50,235.0 716.88,235.0 716.88,174.7 717.00,174.7 717.00,235.0 717.50,235.0 717.50,174.7 718.00,147.7 718.00,249.3 718.12,249.3 718.12,147.7 718.50,205.7 718.50,249.3 719.00,249.3 719.00,205.7 719.50,205.7 719.50,249.3 720.00,273.1 720.00,205.7 720.50,179.2 720.50,273.1 720.80,273.1 720.80,179.2 721.00,179.2 721.00,273.1 721.50,273.1 721.50,179.2 721.88,177.7 721.88,304.3 722.00,304.3 722.00,177.7 722.50,180.2 722.50,237.2 723.00,237.2 723.00,180.2 723.20,180.2 723.20,237.2 723.50,237.2 723.50,180.2 724.00,181.2 724.00,237.2 724.50,245.6 724.50,181.2 724.75,181.2 724.75,245.6 725.00,245.6 725.00,206.4 725.50,206.4 725.50,245.6 725.80,262.4 725.80,206.4 726.00,206.4 726.00,262.4 726.50,240.0 726.50,206.4 727.00,202.7 727.00,240.0 727.50,240.0 727.50,202.7 728.00,202.7 728.00,240.0 728.50,240.0 728.50,177.2 728.80,177.2 728.80,240.0 729.00,240.0 729.00,177.2 729.38,180.2 729.38,274.3 729.50,274.3 729.50,180.2 730.00,180.2 730.00,274.3 730.50,274.3 730.50,180.7 731.00,180.7 731.00,274.9 731.20,274.9 731.20,180.7 731.50,180.7 731.50,254.9 732.00,254.9 732.00,197.7 732.50,197.7 732.50,254.9 733.00,254.9 733.00,205.7 733.50,205.7 733.50,254.9 734.00,254.9 734.00,205.7 734.38,214.2 734.38,266.2 734.50,266.2 734.50,214.2 735.00,214.2 735.00,263.1 735.50,263.1 735.50,214.2 735.62,214.2 735.62,263.1 736.00,263.1 736.00,214.7 736.50,214.7 736.50,263.1 736.88,296.8 736.88,214.7 737.00,214.7 737.00,296.8 737.50,261.8 737.50,214.7 738.00,194.2 738.00,261.8 738.50,261.8 738.50,204.7 738.75,204.7 738.75,261.8 739.00,261.8 739.00,204.7 739.50,204.7 739.50,261.8 740.00,261.8 740.00,172.2 740.50,196.7 740.50,311.8 740.62,311.8 740.62,196.7 741.00,196.7 741.00,234.3 741.20,234.3 741.20,196.7 741.50,196.7 741.50,234.3 742.00,234.3 742.00,170.2 742.25,170.2 742.25,234.3 742.30,234.3 742.30,170.2 742.50,170.2 742.50,234.3 743.00,234.3 743.00,210.7 743.50,210.7 743.50,252.4 744.00,252.4 744.00,210.7 744.50,190.2 744.50,252.4 744.80,279.3 744.80,190.2 745.00,190.2 745.00,279.3 745.50,259.3 745.50,201.2 746.00,201.2 746.00,259.3 746.20,259.3 746.20,201.2 746.50,201.2 746.50,259.3 746.88,259.3 746.88,201.2 747.00,201.2 747.00,259.3 747.50,259.3 747.50,168.2 748.00,170.7 748.00,274.9 748.12,274.9 748.12,170.7 748.50,170.7 748.50,244.3 748.80,244.3 748.80,170.7 749.00,170.7 749.00,244.3 749.15,244.3 749.15,170.7 749.50,170.7 749.50,290.6 749.75,290.6 749.75,170.7 750.00,170.7 750.00,290.6 750.50,290.6 750.50,170.7 751.00,170.7 751.00,301.8 751.50,248.7 751.50,153.2 751.80,153.2 751.80,248.7 752.00,248.7 752.00,153.2 752.50,215.0 752.50,248.7 753.00,248.7 753.00,215.0 753.50,215.0 753.50,248.7 754.00,261.2 754.00,215.0 754.50,215.0 754.50,251.2 755.00,251.2 755.00,179.2 755.25,179.2 755.25,251.2 755.50,251.2 755.50,200.7 756.00,200.7 756.00,251.2 756.20,251.2 756.20,200.7 756.50,200.7 756.50,251.2 756.88,259.3 756.88,200.7 757.00,200.7 757.00,259.3 757.50,259.3 757.50,192.7 758.00,193.2 758.00,263.1 758.12,263.1 758.12,193.2 758.50,193.2 758.50,263.1 759.00,263.1 759.00,193.2 759.50,194.7 759.50,316.8 759.75,316.8 759.75,194.7 760.00,194.7 760.00,316.8 760.50,293.7 760.50,194.7 761.00,194.7 761.00,293.7 761.50,293.7 761.50,154.2 762.00,154.2 762.00,277.4 762.50,277.4 762.50,154.2 763.00,195.2 763.00,277.4 763.12,277.4 763.12,195.2 763.50,195.2 763.50,277.4 763.80,277.4 763.80,195.2 764.00,195.2 764.00,277.4 764.38,290.6 764.38,195.2 764.50,188.7 764.50,290.6 764.80,290.6 764.80,188.7 765.00,188.7 765.00,290.6 765.38,291.8 765.38,188.7 765.50,165.7 765.50,291.8 765.80,246.5 765.80,165.7 766.00,165.7 766.00,246.5 766.50,246.5 766.50,167.7 766.88,167.7 766.88,246.5 767.00,246.5 767.00,167.7 767.50,168.2 767.50,246.5 768.00,246.5 768.00,168.2 768.20,168.2 768.20,246.5 768.50,264.3 768.50,168.2 768.75,216.7 768.75,264.3 769.00,264.3 769.00,216.7 769.50,216.7 769.50,264.3 770.00,264.3 770.00,216.7 770.50,180.2 770.50,264.3 770.62,264.3 770.62,180.2 771.00,180.2 771.00,264.3 771.50,264.3 771.50,169.2 771.80,169.2 771.80,264.3 772.00,264.3 772.00,169.2 772.25,192.7 772.25,264.3 772.50,264.3 772.50,192.7 773.00,192.7 773.00,237.9 773.50,237.9 773.50,193.7 774.00,193.7 774.00,237.9 774.20,237.9 774.20,193.7 774.50,193.7 774.50,237.9 775.00,266.8 775.00,195.7 775.25,195.7 775.25,266.8 775.50,266.8 775.50,195.7 776.00,211.7 776.00,266.8 776.50,293.7 776.50,211.7 776.62,211.7 776.62,293.7 777.00,254.9 777.00,211.7 777.50,177.7 777.50,254.9 778.00,254.9 778.00,177.7 778.12,177.7 778.12,254.9 778.50,245.0 778.50,176.2 778.70,176.2 778.70,245.0 779.00,245.0 779.00,176.2 779.38,198.7 779.38,245.0 779.50,245.0 779.50,198.7 780.00,198.7 780.00,245.0 780.50,245.0 780.50,198.7 781.00,198.7 781.00,273.1 781.50,270.6 781.50,189.7 782.00,189.7 782.00,270.6 782.50,270.6 782.50,186.2 782.75,186.2 782.75,270.6 782.80,270.6 782.80,186.2 783.00,186.2 783.00,270.6 783.50,270.6 783.50,186.7 784.00,186.7 784.00,270.6 784.38,276.8 784.38,186.7 784.50,186.7 784.50,276.8 785.00,271.8 785.00,158.7 785.50,162.2 785.50,271.8 786.00,271.8 786.00,162.2 786.50,162.2 786.50,270.6 787.00,270.6 787.00,199.7 787.25,199.7 787.25,270.6 787.50,270.6 787.50,199.7 787.80,199.7 787.80,240.6 788.00,240.6 788.00,199.7 788.50,202.7 788.50,240.6 789.00,240.6 789.00,202.7 789.20,202.7 789.20,240.6 789.50,240.6 789.50,202.7 790.00,202.7 790.00,248.7 790.50,248.7 790.50,195.7 791.00,195.7 791.00,248.7 791.50,269.3 791.50,175.7 792.00,175.7 792.00,269.3 792.50,269.3 792.50,169.2 792.80,169.2 792.80,269.3 793.00,273.1 793.00,169.2 793.12,187.7 793.12,273.1 793.50,236.1 793.50,187.7 794.00,187.7 794.00,236.1 794.50,236.1 794.50,188.2 795.00,188.2 795.00,236.1 795.20,236.1 795.20,188.2 795.50,188.2 795.50,229.3 796.00,229.3 796.00,200.7 796.20,200.7 796.20,229.3 796.50,229.3 796.50,200.7 797.00,183.7 797.00,229.3 797.50,279.9 797.50,208.5 797.75,208.5 797.75,279.9 798.00,279.9 798.00,208.5 798.50,208.5 798.50,251.2 799.00,251.2 799.00,212.7 799.38,212.7 799.38,251.2 799.50,251.2 799.50,212.7 800.00,212.7 800.00,234.0 800.50,234.0 800.50,177.7 801.00,178.7 801.00,234.0 801.50,234.0 801.50,178.7 802.00,183.7 802.00,234.0 802.50,246.8 802.50,183.7 802.80,183.7 802.80,246.8 803.00,246.8 803.00,183.7 803.50,188.7 803.50,246.8 803.80,258.1 803.80,188.7 804.00,188.7 804.00,258.1 804.50,243.6 804.50,183.7 804.80,183.7 804.80,243.6 805.00,243.6 805.00,183.7 805.25,183.7 805.25,243.6 805.50,243.6 805.50,183.7 806.00,182.2 806.00,243.6 806.50,263.1 806.50,196.7 807.00,196.7 807.00,252.4 807.50,252.4 807.50,196.7 808.00,196.7 808.00,252.4 808.12,252.4 808.12,196.7 808.50,190.7 808.50,242.2 809.00,242.2 809.00,190.7 809.50,152.7 809.50,242.2 809.80,242.2 809.80,152.7 810.00,152.7 810.00,242.2 810.25,242.2 810.25,192.7 810.50,192.7 810.50,242.2 811.00,242.2 811.00,192.7 811.50,232.8 811.50,242.2 811.88,300.6 811.88,232.8 812.00,232.8 812.00,300.6 812.20,291.2 812.20,232.8 812.50,232.8 812.50,291.2 813.00,291.2 813.00,232.8 813.50,186.7 813.50,291.2 813.75,291.2 813.75,186.7 814.00,186.7 814.00,291.2 814.50,244.3 814.50,186.7 815.00,179.2 815.00,244.3 815.25,244.3 815.25,179.2 815.50,197.7 815.50,244.3 816.00,244.3 816.00,197.7 816.20,197.7 816.20,257.4 816.50,257.4 816.50,197.7 817.00,202.8 817.00,256.2 817.50,256.2 817.50,202.8 818.00,202.8 818.00,256.2 818.12,256.2 818.12,202.8 818.50,202.8 818.50,255.6 819.00,255.6 819.00,156.2 819.50,209.7 819.50,255.6 820.00,255.6 820.00,209.7 820.20,209.7 820.20,255.6 820.50,255.6 820.50,209.7 821.00,209.7 821.00,255.6 821.50,255.6 821.50,203.7 821.88,203.7 821.88,256.8 822.00,256.8 822.00,203.7 822.50,203.7 822.50,231.8 823.00,231.8 823.00,195.2 823.12,195.2 823.12,231.8 823.50,231.8 823.50,205.0 824.00,205.0 824.00,231.8 824.50,248.1 824.50,205.0 824.75,205.0 824.75,248.1 825.00,248.1 825.00,205.0 825.50,198.7 825.50,248.1 825.80,248.1 825.80,198.7 826.00,198.7 826.00,248.1 826.50,266.8 826.50,213.2 827.00,213.2 827.00,238.7 827.20,238.7 827.20,213.2 827.50,213.2 827.50,238.7 828.00,238.7 828.00,213.2 828.12,213.2 828.12,238.7 828.50,238.7 828.50,184.7 829.00,184.7 829.00,238.7 829.38,273.7 829.38,182.7 829.50,182.7 829.50,273.7 830.00,273.7 830.00,209.7 830.50,209.7 830.50,273.7 830.80,294.3 830.80,209.7 831.00,209.7 831.00,294.3 831.50,294.3 831.50,209.7 832.00,209.6 832.00,294.3 832.50,294.3 832.50,209.6 833.00,175.7 833.00,301.8 833.12,301.8 833.12,175.7 833.20,175.7 833.20,301.8 833.50,264.3 833.50,175.7 834.00,219.7 834.00,264.3 834.38,264.3 834.38,219.7 834.50,219.7 834.50,264.3 835.00,264.3 835.00,219.7 835.50,219.7 835.50,284.3 835.62,284.3 835.62,219.7 836.00,163.2 836.00,284.3 836.20,284.3 836.20,163.2 836.50,163.2 836.50,284.3 837.00,311.2 837.00,163.2 837.25,163.2 837.25,311.2 837.50,311.2 837.50,152.7 837.80,152.7 837.80,254.9 838.00,254.9 838.00,152.7 838.50,165.2 838.50,254.9 838.75,254.9 838.75,165.2 839.00,165.2 839.00,254.9 839.20,254.9 839.20,165.2 839.50,165.2 839.50,254.9 840.00,299.3 840.00,166.2 840.20,166.2 840.20,299.3 840.25,299.3 840.25,166.2 840.50,166.2 840.50,299.3 841.00,254.3 841.00,166.2 841.50,155.7 841.50,254.3 841.88,254.3 841.88,185.7 842.00,185.7 842.00,254.3 842.50,254.3 842.50,185.7 843.00,196.7 843.00,255.6 843.12,255.6 843.12,196.7 843.50,196.7 843.50,255.6 844.00,255.6 844.00,196.7 844.38,196.7 844.38,289.3 844.50,289.3 844.50,196.7 845.00,184.7 845.00,259.3 845.50,259.3 845.50,184.7 845.62,184.7 845.62,259.3 846.00,259.3 846.00,184.7 846.50,167.7 846.50,259.3 847.00,286.8 847.00,178.7 847.12,178.7 847.12,286.8 847.50,249.3 847.50,178.7 847.80,178.7 847.80,249.3 848.00,249.3 848.00,178.7 848.50,208.5 848.50,249.3 848.75,249.3 848.75,208.5 848.80,208.5 848.80,249.3 849.00,249.3 849.00,208.5 849.50,208.5 849.50,249.3 850.00,249.3 850.00,172.7 850.20,172.7 850.20,249.3 850.25,249.3 850.25,172.7 850.50,172.7 850.50,249.3 851.00,249.3 851.00,190.7 851.50,190.7 851.50,249.3 851.88,273.1 851.88,190.7 852.00,190.7 852.00,273.1 852.50,231.2 852.50,178.2 852.80,178.2 852.80,231.2 853.00,231.2 853.00,178.2 853.12,180.2 853.12,231.2 853.50,231.2 853.50,180.2 854.00,180.2 854.00,231.2 854.50,231.2 854.50,180.2 855.00,180.2 855.00,241.8 855.20,241.8 855.20,180.2 855.50,180.2 855.50,236.5 856.00,236.5 856.00,193.2 856.50,193.2 856.50,236.5 857.00,236.5 857.00,194.2 857.50,194.2 857.50,254.3 857.75,254.3 857.75,194.2 858.00,194.2 858.00,254.3 858.50,254.3 858.50,194.2 859.00,183.2 859.00,254.3 859.38,291.8 859.38,207.8 859.50,207.8 859.50,291.8 860.00,279.9 860.00,207.8 860.20,207.8 860.20,279.9 860.50,279.9 860.50,207.8 861.00,207.8 861.00,279.9 861.50,269.3 861.50,172.2 861.80,172.2 861.80,269.3 862.00,269.3 862.00,172.2 862.50,206.4 862.50,269.3 863.00,264.3 863.00,206.4 863.50,206.4 863.50,264.3 864.00,264.3 864.00,206.4 864.38,169.7 864.38,264.3 864.50,264.3 864.50,169.7 865.00,176.7 865.00,259.9 865.38,259.9 865.38,176.7 865.50,176.7 865.50,259.9 866.00,259.9 866.00,176.7 866.20,176.7 866.20,259.9 866.50,259.9 866.50,176.7 866.88,192.2 866.88,286.8 867.00,286.8 867.00,192.2 867.20,192.2 867.20,269.3 867.50,269.3 867.50,192.2 868.00,192.2 868.00,269.3 868.50,269.3 868.50,188.2 869.00,210.7 869.00,231.8 869.50,231.8 869.50,210.7 870.00,188.7 870.00,231.8 870.20,231.8 870.20,188.7 870.50,188.7 870.50,231.8 871.00,231.8 871.00,204.7 871.50,204.7 871.50,249.9 872.00,249.9 872.00,204.7 872.50,195.2 872.50,249.9 872.75,249.9 872.75,195.2 872.80,195.2 872.80,249.9 873.00,249.9 873.00,195.2 873.50,191.7 873.50,234.3 873.75,234.3 873.75,191.7 873.80,191.7 873.80,234.3 874.00,234.3 874.00,191.7 874.50,191.7 874.50,234.3 875.00,271.8 875.00,167.7 875.50,211.0 875.50,271.8 876.00,304.9 876.00,211.0 876.20,211.0 876.20,304.9 876.50,258.1 876.50,211.0 877.00,211.0 877.00,258.1 877.50,258.1 877.50,189.7 877.80,189.7 877.80,258.1 878.00,248.7 878.00,189.7 878.50,209.7 878.50,248.7 878.75,248.7 878.75,209.7 879.00,209.7 879.00,248.7 879.50,243.6 879.50,209.6 879.60,209.6 879.60,243.6 880.00,243.6 880.00,194.7 880.20,194.7 880.20,243.6 880.50,237.4 880.50,194.7 881.00,194.7 881.00,237.4 881.25,237.4 881.25,185.2 881.50,185.2 881.50,237.4 882.00,237.4 882.00,185.2 882.50,185.2 882.50,253.1 883.00,253.1 883.00,181.2 883.50,203.7 883.50,253.1 884.00,266.2 884.00,203.7 884.50,203.7 884.50,266.2 885.00,266.2 885.00,203.7 885.50,192.7 885.50,310.6 885.62,310.6 885.62,192.7 886.00,192.7 886.00,296.8 886.50,296.8 886.50,192.7 887.00,159.7 887.00,296.8 887.50,296.8 887.50,204.7 888.00,204.7 888.00,244.3 888.20,244.3 888.20,204.7 888.50,204.7 888.50,244.3 889.00,244.3 889.00,181.2 889.20,181.2 889.20,244.3 889.50,232.4 889.50,181.2 890.00,202.7 890.00,232.4 890.25,232.4 890.25,202.7 890.50,202.7 890.50,232.4 891.00,232.4 891.00,212.8 891.50,212.8 891.50,238.1 891.80,238.1 891.80,212.8 892.00,212.8 892.00,238.1 892.50,238.1 892.50,212.8 893.00,198.2 893.00,299.3 893.12,299.3 893.12,198.2 893.20,198.2 893.20,299.3 893.50,276.8 893.50,198.2 894.00,198.2 894.00,276.8 894.50,276.8 894.50,188.7 894.75,188.7 894.75,276.8 894.80,276.8 894.80,188.7 895.00,188.7 895.00,276.8 895.50,241.5 895.50,212.8 896.00,212.8 896.00,241.5 896.50,235.6 896.50,212.8 897.00,176.7 897.00,235.6 897.20,235.6 897.20,176.7 897.25,176.7 897.25,235.6 897.50,235.6 897.50,176.7 898.00,176.7 898.00,264.3 898.12,264.3 898.12,176.7 898.50,172.7 898.50,264.3 899.00,264.3 899.00,205.7 899.38,205.7 899.38,316.8 899.50,316.8 899.50,205.7 900.00,205.7 900.00,259.3 900.50,259.3 900.50,205.7 901.00,205.7 901.00,259.3 901.50,259.3 901.50,200.7 902.00,200.7 902.00,303.1 902.25,303.1 902.25,190.7 902.50,190.7 902.50,303.1 903.00,303.1 903.00,190.7 903.50,186.2 903.50,303.1 904.00,303.1 904.00,212.8 904.38,212.8 904.38,311.8 904.50,311.8 904.50,212.8 905.00,212.8 905.00,251.2 905.50,251.2 905.50,212.8 905.62,212.8 905.62,251.2 906.00,251.2 906.00,212.8 906.50,175.7 906.50,251.2 906.80,276.8 906.80,175.7 906.88,175.7 906.88,276.8 907.00,276.8 907.00,175.7 907.50,199.7 907.50,276.8 908.00,277.4 908.00,199.7 908.12,199.7 908.12,277.4 908.50,249.3 908.50,200.7 909.00,200.7 909.00,249.3 909.20,249.3 909.20,200.7 909.38,200.7 909.38,249.3 909.50,249.3 909.50,200.7 910.00,208.5 910.00,249.3 910.50,268.1 910.50,208.5 910.62,208.5 910.62,268.1 911.00,264.3 911.00,208.5 911.50,192.7 911.50,264.3 911.80,264.3 911.80,192.7 912.00,192.7 912.00,264.3 912.25,264.3 912.25,192.7 912.50,192.7 912.50,264.3 913.00,237.2 913.00,185.7 913.50,185.7 913.50,237.2 913.75,237.2 913.75,185.7 914.00,185.7 914.00,237.2 914.50,233.7 914.50,180.7 914.75,180.7 914.75,233.7 915.00,233.7 915.00,181.2 915.50,181.2 915.50,233.7 916.00,285.6 916.00,181.2 916.50,181.2 916.50,254.3 917.00,254.3 917.00,177.2 917.50,192.7 917.50,254.3 918.00,248.7 918.00,192.7 918.50,192.7 918.50,248.7 919.00,248.7 919.00,192.7 919.50,178.2 919.50,247.2 920.00,247.2 920.00,195.7 920.50,195.7 920.50,247.2 921.00,256.2 921.00,195.7 921.25,195.7 921.25,256.2 921.50,256.2 921.50,194.2 921.80,194.2 921.80,229.9 922.00,229.9 922.00,194.2 922.50,194.2 922.50,229.9 923.00,229.9 923.00,185.2 923.50,188.2 923.50,229.9 924.00,292.4 924.00,188.2 924.20,188.2 924.20,292.4 924.50,246.1 924.50,188.2 925.00,199.7 925.00,246.1 925.20,246.1 925.20,199.7 925.50,199.7 925.50,246.1 925.62,246.1 925.62,199.7 926.00,173.2 926.00,246.1 926.20,246.1 926.20,173.2 926.50,173.2 926.50,246.1 927.00,291.8 927.00,183.2 927.20,183.2 927.20,291.8 927.25,291.8 927.25,183.2 927.50,183.2 927.50,291.8 928.00,261.8 928.00,183.2 928.50,183.2 928.50,261.8 928.75,261.8 928.75,183.2 929.00,192.7 929.00,261.8 929.50,237.4 929.50,192.7 929.80,192.7 929.80,237.4 930.00,237.4 930.00,192.7 930.50,186.7 930.50,237.4 930.80,291.2 930.80,186.7 931.00,186.7 931.00,291.2 931.50,291.2 931.50,210.7 932.00,210.7 932.00,291.2 932.20,296.2 932.20,210.7 932.50,210.7 932.50,296.2 933.00,296.2 933.00,210.7 933.50,192.7 933.50,306.2 933.75,306.2 933.75,192.7 933.80,192.7 933.80,306.2 934.00,306.2 934.00,192.7 934.50,216.4 934.50,296.2 935.00,296.2 935.00,216.4 935.25,216.4 935.25,296.2 935.50,296.2 935.50,216.4 936.00,197.7 936.00,289.3 936.20,289.3 936.20,197.7 936.50,197.7 936.50,289.3 937.00,288.1 937.00,197.7 937.50,194.7 937.50,288.1 937.75,288.1 937.75,194.7 938.00,202.7 938.00,288.1 938.50,274.9 938.50,202.7 939.00,202.7 939.00,274.9 939.50,236.8 939.50,202.7 940.00,164.7 940.00,236.8 940.25,236.8 940.25,164.7 940.50,193.7 940.50,236.8 941.00,236.8 941.00,193.7 941.50,193.7 941.50,236.8 941.88,286.2 941.88,193.7 942.00,193.7 942.00,286.2 942.50,262.4 942.50,193.7 943.00,169.7 943.00,262.4 943.12,262.4 943.12,169.7 943.20,169.7 943.20,262.4 943.50,242.4 943.50,169.7 944.00,201.7 944.00,242.4 944.50,242.4 944.50,201.7 944.75,201.7 944.75,242.4 945.00,242.4 945.00,201.7 945.50,190.7 945.50,242.4 945.80,242.4 945.80,190.7 946.00,190.7 946.00,268.7 946.25,268.7 946.25,190.7 946.50,190.7 946.50,268.7 947.00,238.1 947.00,160.2 947.50,189.2 947.50,238.1 948.00,238.1 948.00,189.2 948.50,189.2 948.50,265.6 948.75,265.6 948.75,189.2 949.00,189.2 949.00,265.6 949.50,265.6 949.50,173.7 950.00,173.7 950.00,283.7 950.50,264.3 950.50,167.7 950.80,167.7 950.80,264.3 951.00,264.3 951.00,167.7 951.25,193.7 951.25,264.3 951.50,264.3 951.50,193.7 951.80,193.7 951.80,264.3 952.00,264.3 952.00,193.7 952.50,194.7 952.50,284.3 953.00,255.6 953.00,194.7 953.50,194.7 953.50,255.6 954.00,255.6 954.00,189.2 954.20,189.2 954.20,255.6 954.50,234.3 954.50,189.2 955.00,190.2 955.00,234.3 955.25,234.3 955.25,190.2 955.50,190.2 955.50,234.3 956.00,248.1 956.00,202.7 956.25,202.7 956.25,248.1 956.50,248.1 956.50,202.7 957.00,202.7 957.00,248.1 957.50,286.8 957.50,181.2 958.00,194.2 958.00,241.1 958.50,241.1 958.50,194.2 958.80,194.2 958.80,241.1 959.00,241.1 959.00,194.2 959.38,194.2 959.38,241.1 959.50,241.1 959.50,194.2 960.00,194.2 960.00,241.1 960.50,241.1 960.50,181.2 961.00,199.7 961.00,259.3 961.50,246.8 961.50,199.7 961.80,199.7 961.80,246.8 962.00,246.8 962.00,199.7 962.50,199.7 962.50,246.8 962.75,246.8 962.75,199.7 963.00,199.7 963.00,246.8 963.50,246.8 963.50,187.7 964.00,207.8 964.00,246.8 964.38,264.9 964.38,207.8 964.50,207.8 964.50,264.9 965.00,264.3 965.00,207.8 965.38,169.2 965.38,264.3 965.50,264.3 965.50,169.2 966.00,169.2 966.00,264.3 966.50,286.2 966.50,169.2 967.00,194.7 967.00,231.8 967.50,231.8 967.50,194.7 968.00,194.7 968.00,231.8 968.12,231.8 968.12,194.7 968.50,167.7 968.50,231.8 969.00,231.8 969.00,167.7 969.38,167.7 969.38,260.6 969.50,260.6 969.50,167.7 970.00,164.2 970.00,260.6 970.50,283.1 970.50,195.2 970.62,195.2 970.62,283.1 971.00,239.3 971.00,195.2 971.20,195.2 971.20,239.3 971.50,239.3 971.50,195.2 971.88,195.2 971.88,239.3 972.00,239.3 972.00,193.7 972.20,193.7 972.20,239.3 972.50,239.3 972.50,193.7 973.00,174.7 973.00,246.8 973.12,246.8 973.12,174.7 973.20,174.7 973.20,246.8 973.50,246.8 973.50,174.7 974.00,191.7 974.00,246.8 974.50,268.7 974.50,191.7 974.75,191.7 974.75,268.7 975.00,268.7 975.00,192.7 975.50,192.7 975.50,249.9 975.80,249.9 975.80,192.7 976.00,192.7 976.00,249.9 976.25,249.9 976.25,192.7 976.50,192.7 976.50,249.9 977.00,249.9 977.00,191.2 977.20,191.2 977.20,250.6 977.50,250.6 977.50,191.2 978.00,206.4 978.00,239.3 978.20,239.3 978.20,206.4 978.50,206.4 978.50,239.3 979.00,239.3 979.00,206.4 979.50,187.7 979.50,239.3 980.00,240.6 980.00,210.3 980.25,210.3 980.25,240.6 980.50,240.6 980.50,210.3 980.80,210.3 980.80,240.6 981.00,240.6 981.00,210.3 981.50,210.7 981.50,240.6 981.88,269.3 981.88,210.7 982.00,210.7 982.00,269.3 982.50,269.3 982.50,210.7 983.00,181.7 983.00,269.3 983.50,272.4 983.50,181.7 984.00,181.7 984.00,272.4 984.50,272.4 984.50,168.2 984.80,168.2 984.80,282.4 985.00,282.4 985.00,168.2 985.50,182.7 985.50,279.3 986.00,279.3 986.00,182.7 986.50,210.0 986.50,279.3 987.00,263.1 987.00,210.0 987.50,210.7 987.50,263.1 988.00,240.8 988.00,210.7 988.20,210.7 988.20,240.8 988.50,240.8 988.50,210.7 989.00,210.7 989.00,240.8 989.50,240.8 989.50,179.2 990.00,181.7 990.00,276.8 990.25,276.8 990.25,181.7 990.50,181.7 990.50,276.8 990.80,276.8 990.80,181.7 991.00,181.7 991.00,276.8 991.50,301.8 991.50,185.7 991.80,185.7 991.80,301.8 992.00,236.8 992.00,185.7 992.50,187.2 992.50,236.8 992.75,236.8 992.75,187.2 993.00,187.2 993.00,236.8 993.50,236.1 993.50,205.2 994.00,205.2 994.00,236.1 994.20,236.1 994.20,205.2 994.38,205.2 994.38,236.1 994.50,236.1 994.50,205.2 995.00,207.1 995.00,236.1 995.50,241.5 995.50,207.1 995.62,207.1 995.62,241.5 996.00,240.6 996.00,207.1 996.50,201.7 996.50,240.6 996.80,240.6 996.80,201.7 997.00,201.7 997.00,240.6 997.25,240.6 997.25,201.7 997.50,201.7 997.50,240.6 998.00,240.6 998.00,183.7 998.50,183.7 998.50,244.3 999.00,244.3 999.00,183.7 999.50,161.7 999.50,244.3 999.80,257.4 999.80,161.7 1000.00,161.7 1000.00,257.4 1000.50,230.8 1000.50,162.2 1001.00,162.2 1001.00,230.8 1001.50,230.8 1001.50,162.2 1002.00,149.7 1002.00,230.8 1002.20,230.8 1002.20,149.7 1002.50,149.7 1002.50,230.8 1003.00,270.6 1003.00,191.7 1003.12,191.7 1003.12,270.6 1003.50,270.6 1003.50,191.7 1003.80,191.7 1003.80,270.6 1004.00,270.6 1004.00,191.7 1004.50,191.7 1004.50,271.8 1004.75,271.8 1004.75,191.7 1005.00,165.7 1005.00,271.8 1005.20,248.1 1005.20,165.7 1005.50,165.7 1005.50,248.1 1006.00,248.1 1006.00,195.7 1006.25,195.7 1006.25,248.1 1006.50,248.1 1006.50,195.7 1007.00,195.7 1007.00,231.8 1007.50,231.8 1007.50,165.7 1007.80,165.7 1007.80,231.8 1008.00,231.8 1008.00,165.7 1008.50,189.7 1008.50,231.8 1009.00,231.8 1009.00,189.7 1009.38,217.7 1009.38,282.4 1009.50,282.4 1009.50,217.7 1010.00,217.7 1010.00,274.3 1010.20,274.3 1010.20,217.7 1010.50,217.7 1010.50,274.3 1011.00,274.3 1011.00,217.7 1011.50,194.7 1011.50,274.3 1012.00,274.3 1012.00,194.7 1012.20,194.7 1012.20,274.3 1012.50,274.3 1012.50,194.7 1012.80,206.4 1012.80,274.3 1013.00,258.1 1013.00,206.4 1013.50,173.7 1013.50,258.1 1013.75,258.1 1013.75,173.7 1014.00,181.7 1014.00,258.1 1014.50,258.1 1014.50,181.7 1015.00,181.7 1015.00,258.1 1015.50,297.4 1015.50,195.7 1015.62,195.7 1015.62,297.4 1016.00,297.4 1016.00,195.7 1016.50,195.7 1016.50,297.4 1017.00,297.4 1017.00,175.7 1017.50,182.7 1017.50,321.8 1018.00,239.3 1018.00,182.7 1018.50,186.7 1018.50,239.3 1018.75,239.3 1018.75,186.7 1019.00,186.7 1019.00,239.3 1019.20,239.3 1019.20,186.7 1019.50,186.7 1019.50,239.3 1020.00,282.4 1020.00,186.7 1020.50,182.7 1020.50,236.5 1021.00,236.5 1021.00,194.7 1021.50,194.7 1021.50,236.5 1022.00,236.5 1022.00,194.7 1022.50,170.7 1022.50,279.3 1022.75,279.3 1022.75,170.7 1023.00,219.7 1023.00,279.3 1023.50,266.8 1023.50,219.7 1024.00,219.7 1024.00,266.8 1024.38,266.8 1024.38,219.7 1024.50,219.7 1024.50,266.8 1025.00,258.1 1025.00,182.7 1025.50,182.7 1025.50,258.1 1026.00,258.1 1026.00,181.7 1026.20,181.7 1026.20,258.1 1026.25,258.1 1026.25,181.7 1026.50,181.7 1026.50,258.1 1027.00,239.3 1027.00,182.2 1027.20,182.2 1027.20,239.3 1027.50,239.3 1027.50,182.2 1028.00,182.2 1028.00,239.3 1028.50,239.3 1028.50,162.2 1029.00,171.7 1029.00,254.9 1029.50,254.9 1029.50,171.7 1029.80,171.7 1029.80,254.9 1030.00,254.9 1030.00,171.7 1030.50,171.7 1030.50,306.8 1030.62,306.8 1030.62,171.7 1030.80,171.7 1030.80,306.8 1031.00,257.4 1031.00,171.7 1031.50,171.7 1031.50,257.4 1031.88,257.4 1031.88,161.7 1032.00,161.7 1032.00,257.4 1032.50,257.4 1032.50,208.7 1033.00,208.7 1033.00,286.2 1033.12,286.2 1033.12,208.7 1033.20,208.7 1033.20,286.2 1033.50,239.3 1033.50,208.7 1034.00,208.7 1034.00,239.3 1034.38,239.3 1034.38,208.7 1034.50,208.7 1034.50,239.3 1035.00,232.2 1035.00,208.7 1035.50,204.7 1035.50,232.2 1035.62,232.2 1035.62,204.7 1035.80,204.7 1035.80,232.2 1036.00,232.2 1036.00,204.7 1036.50,204.7 1036.50,232.2 1037.00,244.3 1037.00,195.2 1037.20,195.2 1037.20,244.3 1037.25,244.3 1037.25,195.2 1037.50,195.2 1037.50,244.3 1038.00,244.3 1038.00,216.7 1038.50,216.7 1038.50,244.9 1038.75,244.9 1038.75,216.7 1039.00,216.7 1039.00,244.9 1039.50,233.1 1039.50,201.7 1039.80,201.7 1039.80,233.1 1040.00,233.1 1040.00,201.7 1040.50,185.7 1040.50,233.1 1040.80,233.1 1040.80,185.7 1041.00,185.7 1041.00,253.1 1041.25,253.1 1041.25,185.7 1041.50,182.7 1041.50,253.1 1041.80,253.1 1041.80,182.7 1042.00,182.7 1042.00,253.1 1042.50,253.7 1042.50,200.7 1042.75,200.7 1042.75,253.7 1043.00,253.7 1043.00,200.7 1043.50,200.7 1043.50,240.0 1044.00,240.0 1044.00,194.7 1044.38,194.7 1044.38,240.0 1044.50,240.0 1044.50,194.7 1045.00,192.2 1045.00,240.0 1045.50,240.0 1045.50,206.7 1046.00,206.7 1046.00,263.1 1046.20,263.1 1046.20,206.7 1046.50,206.7 1046.50,259.9 1047.00,259.9 1047.00,215.0 1047.50,215.0 1047.50,259.9 1048.00,259.9 1048.00,215.0 1048.50,207.8 1048.50,266.8 1048.75,266.8 1048.75,207.8 1048.80,207.8 1048.80,266.8 1049.00,266.8 1049.00,207.8 1049.50,207.8 1049.50,266.8 1050.00,284.3 1050.00,207.7 1050.20,207.7 1050.20,284.3 1050.50,268.1 1050.50,207.7 1051.00,207.7 1051.00,268.1 1051.20,268.1 1051.20,207.7 1051.50,207.7 1051.50,268.1 1052.00,240.8 1052.00,207.7 1052.50,197.2 1052.50,240.8 1053.00,240.8 1053.00,203.7 1053.12,203.7 1053.12,240.8 1053.50,240.8 1053.50,203.7 1053.80,203.7 1053.80,240.8 1054.00,240.8 1054.00,203.7 1054.38,205.7 1054.38,251.8 1054.50,251.8 1054.50,205.7 1055.00,205.7 1055.00,251.8 1055.50,251.8 1055.50,205.7 1056.00,205.7 1056.00,289.3 1056.50,261.8 1056.50,171.2 1056.80,171.2 1056.80,261.8 1057.00,261.8 1057.00,171.2 1057.50,171.2 1057.50,261.8 1058.00,242.2 1058.00,155.7 1058.20,155.7 1058.20,242.2 1058.50,242.2 1058.50,155.7 1059.00,176.7 1059.00,242.2 1059.50,242.2 1059.50,176.7 1060.00,176.7 1060.00,242.2 1060.50,242.2 1060.50,176.7 1060.80,176.7 1060.80,242.2 1061.00,271.2 1061.00,176.7 1061.25,176.7 1061.25,271.2 1061.50,271.2 1061.50,176.7 1062.00,169.7 1062.00,237.2 1062.20,237.2 1062.20,169.7 1062.50,169.7 1062.50,237.2 1062.75,237.2 1062.75,177.2 1063.00,177.2 1063.00,237.2 1063.50,237.2 1063.50,177.2 1064.00,177.2 1064.00,237.2 1064.38,253.1 1064.38,175.7 1064.50,175.7 1064.50,253.1 1065.00,253.1 1065.00,196.7 1065.38,196.7 1065.38,253.1 1065.50,253.1 1065.50,196.7 1066.00,189.7 1066.00,253.1 1066.20,284.3 1066.20,189.7 1066.50,189.7 1066.50,284.3 1067.00,236.8 1067.00,189.7 1067.50,172.7 1067.50,236.8 1067.75,236.8 1067.75,172.7 1068.00,179.7 1068.00,236.8 1068.50,236.8 1068.50,179.7 1069.00,179.7 1069.00,256.8 1069.50,250.6 1069.50,175.7 1069.80,175.7 1069.80,250.6 1070.00,250.6 1070.00,175.7 1070.50,208.5 1070.50,250.6 1070.62,250.6 1070.62,208.5 1071.00,208.5 1071.00,250.6 1071.20,250.6 1071.20,208.5 1071.50,208.5 1071.50,250.6 1071.88,250.6 1071.88,212.7 1072.00,212.7 1072.00,250.6 1072.20,250.6 1072.20,212.7 1072.50,212.7 1072.50,250.6 1073.00,251.2 1073.00,212.7 1073.12,212.7 1073.12,251.2 1073.50,251.2 1073.50,191.2 1074.00,191.2 1074.00,251.2 1074.50,263.1 1074.50,191.2 1074.75,191.2 1074.75,263.1 1074.80,263.1 1074.80,191.2 1075.00,191.2 1075.00,263.1 1075.50,239.3 1075.50,200.7 1075.80,200.7 1075.80,239.3 1076.00,239.3 1076.00,200.7 1076.25,200.7 1076.25,239.3 1076.50,239.3 1076.50,200.7 1077.00,186.7 1077.00,239.3 1077.50,256.8 1077.50,206.7 1078.00,206.7 1078.00,256.8 1078.20,256.8 1078.20,206.7 1078.50,206.7 1078.50,256.8 1079.00,283.1 1079.00,206.7 1079.50,205.0 1079.50,290.6 1079.75,290.6 1079.75,205.0 1080.00,205.0 1080.00,290.6 1080.50,290.6 1080.50,205.0 1081.00,164.7 1081.00,308.1 1081.25,308.1 1081.25,164.7 1081.50,188.7 1081.50,308.1 1082.00,299.3 1082.00,188.7 1082.50,188.7 1082.50,299.3 1083.00,299.3 1083.00,188.7 1083.12,188.7 1083.12,299.3 1083.50,271.8 1083.50,188.7 1084.00,187.7 1084.00,271.8 1084.38,271.8 1084.38,210.0 1084.50,210.0 1084.50,271.8 1085.00,266.8 1085.00,210.0 1085.50,210.0 1085.50,266.8 1085.62,266.8 1085.62,210.0 1086.00,210.0 1086.00,250.6 1086.50,250.6 1086.50,210.0 1087.00,179.2 1087.00,250.6 1087.25,250.6 1087.25,179.2 1087.50,206.7 1087.50,250.6 1088.00,250.6 1088.00,206.7 1088.50,206.7 1088.50,250.6 1089.00,263.1 1089.00,214.7 1089.50,214.7 1089.50,244.7 1090.00,244.7 1090.00,214.7 1090.50,191.7 1090.50,244.7 1090.62,244.7 1090.62,191.7 1090.80,191.7 1090.80,244.7 1091.00,244.7 1091.00,191.7 1091.50,198.7 1091.50,244.7 1091.88,250.6 1091.88,198.7 1092.00,198.7 1092.00,250.6 1092.20,250.6 1092.20,198.7 1092.50,198.7 1092.50,250.6 1093.00,250.6 1093.00,198.7 1093.50,190.2 1093.50,272.4 1093.80,272.4 1093.80,190.2 1094.00,190.2 1094.00,235.0 1094.29,235.0 1094.29,212.8 1094.50,212.8 1094.50,235.0 1095.00,269.3 1095.00,212.8 1095.50,212.8 1095.50,254.3 1096.00,254.3 1096.00,212.8 1096.25,197.7 1096.25,254.3 1096.50,254.3 1096.50,197.7 1097.00,197.7 1097.00,254.3 1097.50,254.3 1097.50,197.7 1098.00,187.7 1098.00,254.3 1098.50,254.3 1098.50,187.7 1099.00,187.7 1099.00,286.8 1099.50,238.7 1099.50,181.2 1100.00,199.7 1100.00,238.7 1100.25,238.7 1100.25,199.7 1100.50,199.7 1100.50,238.7 1101.00,260.6 1101.00,199.7 1101.25,199.7 1101.25,260.6 1101.50,260.6 1101.50,215.0 1101.79,215.0 1101.79,260.6 1102.00,260.6 1102.00,215.0 1102.50,175.7 1102.50,310.6 1102.75,310.6 1102.75,175.7 1103.00,175.7 1103.00,310.6 1103.50,231.8 1103.50,175.7 1104.00,171.2 1104.00,231.8 1104.38,231.8 1104.38,174.7 1104.50,174.7 1104.50,231.8 1105.00,231.8 1105.00,174.7 1105.50,174.7 1105.50,251.2 1105.62,251.2 1105.62,174.7 1106.00,197.7 1106.00,232.2 1106.50,232.2 1106.50,197.7 1106.80,197.7 1106.80,232.2 1107.00,232.2 1107.00,197.7 1107.50,197.7 1107.50,232.2 1108.00,232.2 1108.00,183.7 1108.20,183.7 1108.20,232.2 1108.50,244.3 1108.50,183.7 1108.75,207.5 1108.75,244.3 1109.00,244.3 1109.00,207.5 1109.50,207.5 1109.50,239.3 1110.00,239.3 1110.00,207.5 1110.50,207.5 1110.50,239.3 1111.00,239.3 1111.00,197.2 1111.50,197.2 1111.50,246.8 1112.00,246.8 1112.00,197.2 1112.50,177.7 1112.50,265.6 1113.00,255.6 1113.00,177.7 1113.50,177.7 1113.50,255.6 1114.00,255.6 1114.00,177.2 1114.50,177.2 1114.50,255.6 1115.00,284.9 1115.00,176.2 1115.25,176.2 1115.25,284.9 1115.50,284.9 1115.50,176.2 1116.00,176.2 1116.00,235.6 1116.50,235.6 1116.50,174.7 1117.00,185.7 1117.00,235.6 1117.50,244.3 1117.50,185.7 1118.00,185.7 1118.00,244.3 1118.50,244.3 1118.50,185.7 1119.00,185.7 1119.00,251.8 1119.50,251.8 1119.50,185.7 1120.00,185.7 1120.00,251.8 1120.50,251.8 1120.50,143.7 1120.62,143.7 1120.62,251.8 1121.00,251.8 1121.00,166.7 1121.50,166.7 1121.50,251.8 1122.00,261.8 1122.00,166.7 1122.20,166.7 1122.20,261.8 1122.25,261.8 1122.25,166.7 1122.50,166.7 1122.50,261.8 1123.00,263.1 1123.00,191.7 1123.12,191.7 1123.12,263.1 1123.50,240.8 1123.50,191.7 1123.80,191.7 1123.80,240.8 1124.00,240.8 1124.00,191.7 1124.50,191.7 1124.50,240.8 1125.00,240.8 1125.00,177.7 1125.20,177.7 1125.20,240.8 1125.50,240.8 1125.50,177.7 1126.00,235.0 1126.00,240.8 1126.50,240.8 1126.50,235.0 1126.80,235.0 1126.80,276.8 1126.88,276.8 1126.88,235.0 1127.00,235.0 1127.00,276.8 1127.50,259.3 1127.50,235.0 1128.00,185.2 1128.00,259.3 1128.12,259.3 1128.12,185.2 1128.20,185.2 1128.20,259.3 1128.50,238.1 1128.50,185.2 1129.00,196.7 1129.00,238.1 1129.50,238.1 1129.50,196.7 1130.00,196.7 1130.00,238.1 1130.50,237.9 1130.50,195.2 1130.80,195.2 1130.80,237.9 1131.00,237.9 1131.00,195.2 1131.25,195.2 1131.25,237.9 1131.50,237.9 1131.50,195.2 1132.00,181.2 1132.00,237.9 1132.50,290.6 1132.50,192.7 1133.00,192.7 1133.00,288.7 1133.50,288.7 1133.50,192.7 1134.00,194.7 1134.00,288.7 1134.50,241.5 1134.50,194.7 1135.00,194.7 1135.00,241.5 1135.50,241.5 1135.50,145.7 1135.62,145.7 1135.62,241.5 1135.80,241.5 1135.80,145.7 1136.00,145.7 1136.00,241.5 1136.50,241.5 1136.50,163.2 1136.88,163.2 1136.88,244.3 1137.00,244.3 1137.00,163.2 1137.50,163.2 1137.50,244.3 1138.00,273.7 1138.00,186.7 1138.12,186.7 1138.12,273.7 1138.50,236.8 1138.50,186.7 1138.80,186.7 1138.80,236.8 1139.00,236.8 1139.00,186.7 1139.50,186.7 1139.50,236.8 1139.75,236.8 1139.75,186.2 1140.00,186.2 1140.00,236.8 1140.50,236.8 1140.50,186.2 1141.00,186.2 1141.00,257.4 1141.25,257.4 1141.25,175.7 1141.50,175.7 1141.50,257.4 1142.00,239.3 1142.00,220.7 1142.50,220.7 1142.50,239.3 1143.00,239.3 1143.00,220.7 1143.50,220.7 1143.50,239.3 1144.00,265.6 1144.00,220.7 1144.50,187.2 1144.50,256.2 1145.00,256.2 1145.00,191.7 1145.50,191.7 1145.50,256.2 1145.62,256.2 1145.62,191.7 1145.80,191.7 1145.80,256.2 1146.00,256.2 1146.00,191.7 1146.50,191.7 1146.50,256.2 1146.88,256.8 1146.88,179.2 1147.00,179.2 1147.00,256.8 1147.50,235.0 1147.50,179.2 1148.00,179.2 1148.00,235.0 1148.12,235.0 1148.12,179.2 1148.50,179.2 1148.50,235.0 1149.00,235.0 1149.00,160.7 1149.20,160.7 1149.20,235.0 1149.50,272.4 1149.50,160.7 1149.75,180.7 1149.75,272.4 1150.00,272.4 1150.00,180.7 1150.50,180.7 1150.50,251.8 1151.00,251.8 1151.00,204.2 1151.25,204.2 1151.25,251.8 1151.50,251.8 1151.50,204.2 1152.00,204.2 1152.00,251.8 1152.50,251.8 1152.50,167.2 1153.00,172.7 1153.00,300.6 1153.12,300.6 1153.12,172.7 1153.50,172.7 1153.50,236.2 1154.00,236.2 1154.00,172.7 1154.50,172.7 1154.50,236.2 1154.75,236.2 1154.75,172.7 1155.00,220.7 1155.00,236.2 1155.50,236.2 1155.50,220.7 1156.00,220.7 1156.00,236.2 1156.50,236.2 1156.50,220.7 1156.88,220.7 1156.88,294.3 1157.00,294.3 1157.00,220.7 1157.50,196.7 1157.50,281.8 1158.00,281.8 1158.00,196.7 1158.12,196.7 1158.12,281.8 1158.50,242.9 1158.50,169.7 1158.78,169.7 1158.78,242.9 1159.00,242.9 1159.00,169.7 1159.38,169.7 1159.38,276.8 1159.50,276.8 1159.50,169.7 1160.00,169.7 1160.00,251.2 1160.50,251.2 1160.50,188.7 1160.62,188.7 1160.62,251.2 1161.00,249.3 1161.00,188.7 1161.50,188.7 1161.50,249.3 1162.00,249.3 1162.00,188.7 1162.25,188.7 1162.25,249.3 1162.50,249.3 1162.50,188.7 1162.80,188.7 1162.80,237.9 1163.00,237.9 1163.00,188.7 1163.50,188.7 1163.50,237.9 1163.75,237.9 1163.75,188.7 1164.00,186.7 1164.00,237.9 1164.20,237.9 1164.20,186.7 1164.50,186.7 1164.50,237.9 1165.00,237.9 1165.00,196.7 1165.38,196.7 1165.38,249.3 1165.50,249.3 1165.50,196.7 1166.00,204.7 1166.00,240.8 1166.50,240.8 1166.50,204.7 1166.80,204.7 1166.80,240.8 1166.88,240.8 1166.88,204.7 1167.00,204.7 1167.00,240.8 1167.50,240.8 1167.50,204.7 1168.00,161.2 1168.00,249.3 1168.12,249.3 1168.12,161.2 1168.50,187.7 1168.50,249.3 1169.00,249.3 1169.00,187.7 1169.20,187.7 1169.20,249.3 1169.50,263.7 1169.50,187.7 1169.75,194.2 1169.75,263.7 1170.00,263.7 1170.00,194.2 1170.50,194.2 1170.50,239.3 1171.00,239.3 1171.00,194.2 1171.25,190.7 1171.25,239.3 1171.50,239.3 1171.50,190.7 1172.00,190.7 1172.00,239.3 1172.50,264.3 1172.50,188.2 1172.80,188.2 1172.80,264.3 1173.00,253.1 1173.00,188.2 1173.50,212.5 1173.50,253.1 1174.00,253.1 1174.00,212.5 1174.20,212.5 1174.20,253.1 1174.50,253.1 1174.50,212.5 1175.00,212.5 1175.00,253.1 1175.50,253.1 1175.50,173.2 1176.00,173.2 1176.00,297.4 1176.50,260.6 1176.50,160.2 1176.80,160.2 1176.80,260.6 1177.00,260.6 1177.00,160.2 1177.50,187.7 1177.50,260.6 1177.80,260.6 1177.80,187.7 1178.00,187.7 1178.00,238.1 1178.50,238.1 1178.50,187.7 1179.00,161.2 1179.00,238.1 1179.50,238.1 1179.50,162.2 1180.00,162.2 1180.00,238.1 1180.20,238.1 1180.20,162.2 1180.50,162.2 1180.50,258.1 1180.62,258.1 1180.62,162.7 1181.00,162.7 1181.00,258.1 1181.20,258.1 1181.20,162.7 1181.50,162.7 1181.50,258.1 1181.88,279.9 1181.88,165.2 1182.00,165.2 1182.00,279.9 1182.20,251.8 1182.20,165.2 1182.50,165.2 1182.50,251.8 1183.00,251.8 1183.00,196.7 1183.20,196.7 1183.20,251.8 1183.50,251.8 1183.50,196.7 1184.00,183.7 1184.00,251.8 1184.20,251.8 1184.20,183.7 1184.50,183.7 1184.50,251.8 1185.00,297.4 1185.00,211.7 1185.50,211.7 1185.50,261.8 1186.00,261.8 1186.00,211.7 1186.50,190.7 1186.50,261.8 1186.80,261.8 1186.80,190.7 1186.88,190.7 1186.88,261.8 1187.00,261.8 1187.00,190.7 1187.50,190.7 1187.50,261.8 1188.00,261.8 1188.00,178.7 1188.20,178.7 1188.20,261.8 1188.50,294.3 1188.50,178.7 1188.75,196.7 1188.75,294.3 1189.00,294.3 1189.00,196.7 1189.50,196.7 1189.50,242.2 1190.00,242.2 1190.00,196.7 1190.50,191.2 1190.50,242.2 1190.62,242.2 1190.62,191.2 1191.00,191.2 1191.00,234.3 1191.50,234.3 1191.50,170.7 1191.80,170.7 1191.80,234.3 1191.88,234.3 1191.88,170.7 1192.00,170.7 1192.00,234.3 1192.50,234.3 1192.50,194.2 1193.00,194.2 1193.00,289.3 1193.12,289.3 1193.12,194.2 1193.50,208.9 1193.50,289.3 1194.00,310.6 1194.00,208.9 1194.20,208.9 1194.20,310.6 1194.50,277.4 1194.50,208.9 1195.00,208.9 1195.00,277.4 1195.25,277.4 1195.25,208.9 1195.50,208.9 1195.50,277.4 1196.00,277.4 1196.00,142.7 1196.50,145.2 1196.50,277.4 1196.88,295.6 1196.88,145.2 1197.00,145.2 1197.00,295.6 1197.50,250.6 1197.50,145.2 1197.80,145.2 1197.80,250.6 1198.00,250.6 1198.00,145.2 1198.50,196.7 1198.50,250.6 1198.75,250.6 1198.75,196.7 1199.00,196.7 1199.00,250.6 1199.50,250.6 1199.50,196.7 1200.00,196.7 1200.00,250.6 1200.50,276.8 1200.50,171.2 1200.62,171.2 1200.62,276.8 1200.80,276.8 1200.80,171.2 1201.00,171.2 1201.00,262.4 1201.50,262.4 1201.50,207.7 1202.00,207.7 1202.00,262.4 1202.25,262.4 1202.25,207.7 1202.50,220.7 1202.50,262.4 1203.00,262.4 1203.00,220.7 1203.50,220.7 1203.50,262.4 1204.00,284.9 1204.00,220.7 1204.50,192.7 1204.50,239.9 1205.00,239.9 1205.00,192.7 1205.25,181.2 1205.25,239.9 1205.50,239.9 1205.50,181.2 1206.00,187.7 1206.00,239.9 1206.50,239.9 1206.50,187.7 1206.80,187.7 1206.80,240.8 1206.88,240.8 1206.88,187.7 1207.00,187.7 1207.00,240.8 1207.50,240.8 1207.50,199.2 1208.00,199.2 1208.00,263.7 1208.12,263.7 1208.12,199.2 1208.20,199.2 1208.20,263.7 1208.50,263.7 1208.50,199.2 1209.00,207.5 1209.00,263.7 1209.50,305.6 1209.50,207.5 1209.75,207.5 1209.75,305.6 1210.00,305.6 1210.00,207.5 1210.50,207.5 1210.50,269.3 1211.00,269.3 1211.00,157.7 1211.25,157.7 1211.25,269.3 1211.50,269.3 1211.50,195.2 1212.00,195.2 1212.00,269.3 1212.50,270.6 1212.50,195.2 1212.75,195.2 1212.75,270.6 1213.00,270.6 1213.00,210.0 1213.50,210.0 1213.50,319.9 1213.75,319.9 1213.75,210.0 1214.00,210.0 1214.00,319.9 1214.50,258.1 1214.50,210.0 1215.00,205.2 1215.00,258.1 1215.25,258.1 1215.25,205.2 1215.50,205.2 1215.50,258.1 1216.00,258.1 1216.00,189.7 1216.20,189.7 1216.20,258.1 1216.50,258.1 1216.50,189.7 1216.88,189.7 1216.88,315.6 1217.00,315.6 1217.00,189.7 1217.50,187.2 1217.50,304.3 1218.00,304.3 1218.00,199.2 1218.50,199.2 1218.50,304.3 1219.00,276.8 1219.00,199.2 1219.50,199.2 1219.50,276.8 1220.00,276.8 1220.00,182.7 1220.50,182.7 1220.50,276.2 1221.00,276.2 1221.00,174.7 1221.20,174.7 1221.20,276.2 1221.25,276.2 1221.25,174.7 1221.50,174.7 1221.50,276.2 1222.00,258.1 1222.00,181.2 1222.50,181.2 1222.50,258.1 1223.00,258.1 1223.00,213.5 1223.50,213.5 1223.50,263.1 1223.75,263.1 1223.75,213.5 1223.80,213.5 1223.80,263.1 1224.00,263.1 1224.00,213.5 1224.50,213.5 1224.50,263.1 1225.00,263.1 1225.00,213.5 1225.50,194.2 1225.50,266.8 1225.62,266.8 1225.62,194.2 1226.00,212.7 1226.00,253.1 1226.50,253.1 1226.50,212.7 1227.00,215.0 1227.00,253.1 1227.50,253.1 1227.50,215.0 1228.00,169.2 1228.00,253.1 1228.20,253.1 1228.20,169.2 1228.50,169.2 1228.50,272.4 1228.75,272.4 1228.75,183.7 1229.00,183.7 1229.00,272.4 1229.50,272.4 1229.50,183.7 1229.80,183.7 1229.80,272.4 1230.00,283.7 1230.00,183.7 1230.25,210.0 1230.25,283.7 1230.50,283.7 1230.50,210.0 1231.00,210.0 1231.00,259.3 1231.50,259.3 1231.50,210.0 1231.88,210.0 1231.88,259.3 1232.00,259.3 1232.00,202.2 1232.20,202.2 1232.20,259.3 1232.50,259.3 1232.50,202.2 1233.00,202.2 1233.00,259.3 1233.50,263.1 1233.50,196.7 1234.00,214.2 1234.00,244.3 1234.50,244.3 1234.50,214.2 1234.75,214.2 1234.75,244.3 1235.00,244.3 1235.00,214.2 1235.50,214.2 1235.50,244.3 1236.00,273.1 1236.00,214.2 1236.25,172.2 1236.25,273.1 1236.50,273.1 1236.50,172.2 1237.00,195.7 1237.00,261.8 1237.50,261.8 1237.50,195.7 1238.00,195.7 1238.00,235.0 1238.50,235.0 1238.50,179.7 1238.80,179.7 1238.80,235.0 1239.00,235.0 1239.00,179.7 1239.50,179.7 1239.50,235.0 1240.00,235.0 1240.00,170.7 1240.50,172.7 1240.50,289.3 1240.62,289.3 1240.62,172.7 1241.00,172.7 1241.00,289.3 1241.20,289.3 1241.20,172.7 1241.50,172.7 1241.50,289.3 1242.00,289.3 1242.00,175.2 1242.20,175.2 1242.20,289.3 1242.50,293.1 1242.50,175.2 1242.75,215.7 1242.75,293.1 1243.00,293.1 1243.00,215.7 1243.50,215.7 1243.50,254.9 1244.00,254.9 1244.00,215.7 1244.38,215.7 1244.38,254.9 1244.50,254.9 1244.50,215.7 1245.00,174.2 1245.00,254.9 1245.50,275.6 1245.50,180.7 1245.62,180.7 1245.62,275.6 1246.00,254.9 1246.00,180.7 1246.50,180.7 1246.50,254.9 1247.00,254.9 1247.00,181.2 1247.25,181.2 1247.25,254.9 1247.50,254.9 1247.50,181.2 1248.00,181.2 1248.00,254.9 1248.50,254.9 1248.50,177.2 1249.00,180.7 1249.00,271.8 1249.50,249.3 1249.50,180.7 1250.00,181.2 1250.00,249.3 1250.25,249.3 1250.25,181.2 1250.50,181.2 1250.50,249.3 1250.80,241.5 1250.80,181.2 1251.00,181.2 1251.00,241.5 1251.50,241.5 1251.50,222.8 1251.88,222.8 1251.88,241.5 1252.00,241.5 1252.00,222.8 1252.50,222.8 1252.50,241.5 1253.00,241.5 1253.00,179.2 1253.20,179.2 1253.20,241.5 1253.50,279.9 1253.50,179.2 1253.75,202.8 1253.75,279.9 1254.00,279.9 1254.00,202.8 1254.50,202.8 1254.50,231.8 1255.00,231.8 1255.00,202.8 1255.25,202.8 1255.25,231.8 1255.50,231.8 1255.50,202.7 1255.80,202.7 1255.80,231.8 1256.00,231.8 1256.00,202.7 1256.50,202.7 1256.50,231.8 1256.88,238.1 1256.88,191.7 1257.00,191.7 1257.00,238.1 1257.50,230.6 1257.50,202.7 1257.60,202.7 1257.60,230.6 1258.00,230.6 1258.00,213.5 1258.20,213.5 1258.20,230.6 1258.50,230.6 1258.50,213.5 1258.75,213.5 1258.75,230.6 1259.00,230.6 1259.00,213.5 1259.50,195.2 1259.50,229.3 1260.00,229.3 1260.00,195.2 1260.50,195.2 1260.50,229.3 1260.62,229.3 1260.62,195.2 1261.00,195.2 1261.00,229.3 1261.50,229.3 1261.50,179.2 1261.80,179.2 1261.80,229.3 1262.00,229.3 1262.00,179.2 1262.50,210.7 1262.50,263.1 1263.00,233.6 1263.00,210.7 1263.50,178.7 1263.50,233.6 1263.57,233.6 1263.57,178.7 1264.00,178.7 1264.00,233.6 1264.38,266.8 1264.38,178.7 1264.50,178.7 1264.50,266.8 1265.00,275.6 1265.00,178.7 1265.50,173.2 1265.50,266.8 1266.00,266.8 1266.00,173.2 1266.50,173.2 1266.50,266.8 1266.80,266.8 1266.80,173.2 1267.00,173.2 1267.00,266.8 1267.50,266.8 1267.50,195.7 1267.88,195.7 1267.88,305.6 1268.00,305.6 1268.00,195.7 1268.20,195.7 1268.20,286.8 1268.50,286.8 1268.50,195.7 1269.00,195.7 1269.00,286.8 1269.38,286.8 1269.38,146.2 1269.50,146.2 1269.50,286.8 1270.00,286.8 1270.00,186.7 1270.50,186.7 1270.50,299.9 1270.62,299.9 1270.62,186.7 1270.80,186.7 1270.80,299.9 1271.00,248.7 1271.00,186.7 1271.50,186.7 1271.50,248.7 1271.80,248.7 1271.80,186.7 1271.88,186.7 1271.88,248.7 1272.00,248.7 1272.00,186.7 1272.50,176.7 1272.50,248.7 1272.80,248.7 1272.80,176.7 1273.00,176.7 1273.00,248.7 1273.50,277.4 1273.50,180.7 1273.75,180.7 1273.75,277.4 1273.80,277.4 1273.80,180.7 1274.00,180.7 1274.00,277.4 1274.35,235.8 1274.35,180.7 1274.50,150.2 1274.50,235.8 1274.80,235.8 1274.80,150.2 1275.00,150.2 1275.00,265.6 1275.25,265.6 1275.25,187.7 1275.50,187.7 1275.50,265.6 1276.00,265.6 1276.00,187.7 1276.50,188.7 1276.50,265.6 1277.00,297.4 1277.00,188.7 1277.20,188.7 1277.20,297.4 1277.25,297.4 1277.25,188.7 1277.50,188.7 1277.50,297.4 1278.00,294.3 1278.00,208.7 1278.50,208.7 1278.50,294.3 1278.75,294.3 1278.75,208.7 1279.00,208.7 1279.00,294.3 1279.50,271.2 1279.50,155.2 1280.00,155.2 1280.00,271.2 1280.25,271.2 1280.25,148.2 1280.50,148.2 1280.50,271.2 1281.00,261.8 1281.00,172.7 1281.50,172.7 1281.50,261.8 1281.80,261.8 1281.80,172.7 1282.00,172.7 1282.00,231.3 1282.28,231.3 1282.28,172.7 1282.50,172.7 1282.50,231.3 1282.88,299.9 1282.88,170.7 1283.00,170.7 1283.00,299.9 1283.50,249.9 1283.50,170.7 1284.00,146.7 1284.00,249.9 1284.20,249.9 1284.20,146.7 1284.50,146.7 1284.50,249.9 1285.00,249.9 1285.00,198.7 1285.50,198.7 1285.50,249.9 1286.00,249.9 1286.00,198.7 1286.50,186.7 1286.50,249.9 1286.88,303.7 1286.88,186.7 1287.00,186.7 1287.00,303.7 1287.50,283.1 1287.50,175.7 1288.00,193.7 1288.00,283.1 1288.12,283.1 1288.12,193.7 1288.50,193.7 1288.50,241.2 1288.80,241.2 1288.80,193.7 1289.00,193.7 1289.00,241.2 1289.38,241.2 1289.38,194.7 1289.50,194.7 1289.50,241.2 1290.00,236.8 1290.00,194.7 1290.50,171.2 1290.50,236.8 1290.62,236.8 1290.62,171.2 1291.00,190.7 1291.00,236.8 1291.50,236.8 1291.50,190.7 1291.88,202.7 1291.88,239.9 1292.00,239.9 1292.00,202.7 1292.50,202.7 1292.50,239.9" fill="none" stroke="#000" stroke-width="1.35" stroke-linejoin="round"/>
<rect x="123" y="123" width="1214" height="524" fill="none" stroke="#000" stroke-width="1.74" stroke-linejoin="round"/>
<path d="M167.80 647V662 M325.97 647V662 M484.14 647V662 M642.31 647V662 M800.49 647V662 M958.66 647V662 M1116.83 647V662 M1275.00 647V662 M123 627.48H108 M123 521.73H108 M123 415.98H108 M123 310.23H108 M123 204.48H108" stroke="#000" stroke-width="1.7" stroke-linecap="round" fill="none"/>
<text x="167.30" y="701" font-size="25" text-anchor="middle">0</text>
<text x="325.47" y="701" font-size="25" text-anchor="middle">200</text>
<text x="483.64" y="701" font-size="25" text-anchor="middle">400</text>
<text x="641.81" y="701" font-size="25" text-anchor="middle">600</text>
<text x="799.99" y="701" font-size="25" text-anchor="middle">800</text>
<text x="958.16" y="701" font-size="25" text-anchor="middle">1000</text>
<text x="1116.33" y="701" font-size="25" text-anchor="middle">1200</text>
<text x="1274.50" y="701" font-size="25" text-anchor="middle">1400</text>
<text transform="translate(87.3 628.38) rotate(-90)" font-size="25" text-anchor="middle">0</text>
<text transform="translate(87.3 522.63) rotate(-90)" font-size="25" text-anchor="middle">200000</text>
<text transform="translate(87.3 416.88) rotate(-90)" font-size="25" text-anchor="middle">400000</text>
<text transform="translate(87.3 311.13) rotate(-90)" font-size="25" text-anchor="middle">600000</text>
<text transform="translate(87.3 205.38) rotate(-90)" font-size="25" text-anchor="middle">800000</text>
<text x="730" y="760.7" font-size="25.1" text-anchor="middle">Data Written (GBs)</text>
<text transform="translate(28.00 385.70) rotate(-90)" font-size="25" text-anchor="middle">Throughput (Records/Second)</text>
</svg></body></html>
